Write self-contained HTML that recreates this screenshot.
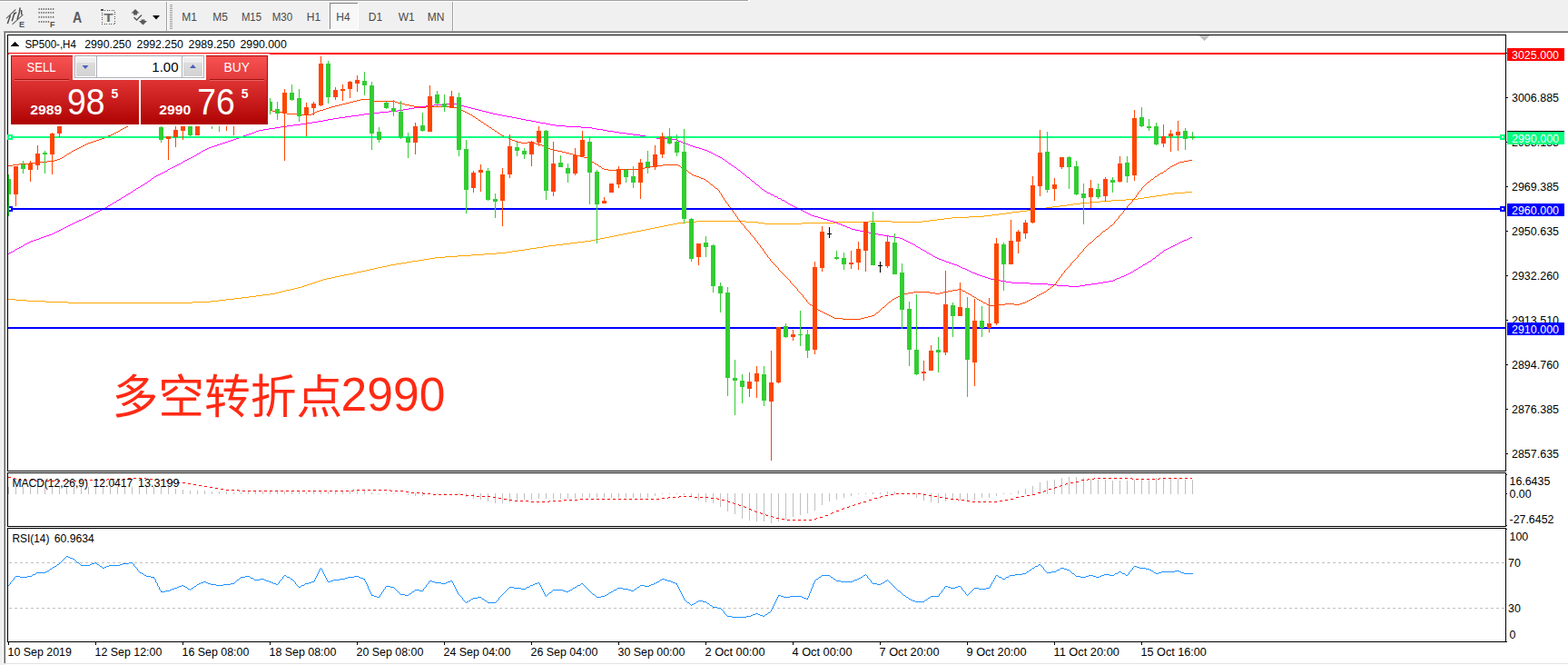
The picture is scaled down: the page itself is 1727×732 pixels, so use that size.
<!DOCTYPE html>
<html><head><meta charset="utf-8"><title>SP500 H4</title>
<style>
html,body{margin:0;padding:0;background:#f0f0f0;overflow:hidden}
svg{display:block;font-family:"Liberation Sans",sans-serif}
</style></head><body>
<svg width="1727" height="732" viewBox="0 0 1727 732" shape-rendering="crispEdges">
<rect x="0" y="0" width="1727" height="732" fill="#f0f0f0"/>
<rect x="6" y="36" width="1721" height="694" fill="#ffffff"/>
<rect x="3" y="36" width="1" height="694" fill="#ffffff"/>
<rect x="0" y="0" width="824" height="1" fill="#a0a0a0"/>
<rect x="0" y="1" width="826" height="1" fill="#ffffff"/>
<rect x="824" y="0" width="2" height="1" fill="#ffffff"/>
<rect x="4" y="34" width="1723" height="1" fill="#a0a0a0"/>
<rect x="5" y="35" width="1722" height="1" fill="#696969"/>
<rect x="4" y="35" width="1" height="695" fill="#a0a0a0"/>
<rect x="5" y="36" width="1" height="694" fill="#696969"/>
<rect x="4" y="730" width="1723" height="1" fill="#e3e3e3"/>
<rect x="0" y="731" width="6" height="1" fill="#f0f0f0"/>
<rect x="6" y="731" width="1721" height="1" fill="#fff"/>
<rect x="0" y="33" width="1727" height="1" fill="#f6f6f6"/>
<rect x="8" y="38" width="1651" height="1" fill="#000"/>
<rect x="8" y="38" width="1" height="669" fill="#000"/>
<rect x="1658" y="38" width="1" height="669" fill="#000"/>
<rect x="8" y="518" width="1651" height="1" fill="#000"/>
<rect x="8" y="519" width="1651" height="1" fill="#fff"/>
<rect x="8" y="520" width="1651" height="1" fill="#000"/>
<rect x="8" y="579" width="1651" height="1" fill="#000"/>
<rect x="8" y="580" width="1651" height="1" fill="#fff"/>
<rect x="8" y="581" width="1651" height="1" fill="#000"/>
<rect x="8" y="706" width="1651" height="1" fill="#000"/>
<rect x="8" y="148" width="6" height="6" fill="#00ff7f"/>
<rect x="10" y="150" width="2" height="2" fill="#fff"/>
<rect x="1652" y="148" width="6" height="6" fill="#00ff7f"/>
<rect x="1654" y="150" width="2" height="2" fill="#fff"/>
<rect x="8" y="227" width="6" height="6" fill="#0000ff"/>
<rect x="10" y="229" width="2" height="2" fill="#fff"/>
<rect x="1652" y="227" width="6" height="6" fill="#0000ff"/>
<rect x="1654" y="229" width="2" height="2" fill="#fff"/>
<g clip-path="url(#cm)">
<path d="M651 264h5v1h-5zM75 333h137v1h-137zM17 330h13v1h-13zM241 330h8v1h-8zM571 275h7v1h-7zM755 244h12v1h-12zM821 244h14v1h-14zM920 244h37v1h-37zM982 244h34v1h-34zM1084 237h8v1h-8zM636 266h8v1h-8zM1159 227h8v1h-8zM1273 215h7v1h-7zM379 302h5v1h-5zM1067 238h17v1h-17zM767 243h54v1h-54zM957 243h25v1h-25zM1016 243h8v1h-8zM666 261h5v1h-5zM591 272h7v1h-7zM701 254h5v1h-5zM365 305h4v1h-4zM1212 221h12v1h-12zM584 273h7v1h-7zM1260 217h6v1h-6zM746 245h9v1h-9zM835 245h7v1h-7zM883 245h37v1h-37zM1100 235h8v1h-8zM393 299h5v1h-5zM1167 226h8v1h-8zM726 249h5v1h-5zM9 329h8v1h-8zM249 329h9v1h-9zM353 308h3v1h-3zM50 332h25v1h-25zM212 332h20v1h-20zM426 292h4v1h-4zM533 279h14v1h-14zM490 282h14v1h-14zM716 251h5v1h-5zM681 258h5v1h-5zM454 287h7v1h-7zM442 289h6v1h-6zM407 296h5v1h-5zM1224 220h16v1h-16zM266 327h8v1h-8zM344 311h3v1h-3zM741 246h5v1h-5zM842 246h41v1h-41zM731 248h5v1h-5zM1200 222h12v1h-12zM1040 240h8v1h-8zM479 283h11v1h-11zM1190 223h10v1h-10zM1032 241h8v1h-8zM307 321h4v1h-4zM547 278h11v1h-11zM504 281h15v1h-15zM1293 212h12v1h-12zM335 314h3v1h-3zM1146 229h6v1h-6zM328 316h4v1h-4zM1131 231h8v1h-8zM315 319h5v1h-5zM519 280h14v1h-14zM311 320h4v1h-4zM30 331h20v1h-20zM232 331h9v1h-9zM297 323h6v1h-6zM578 274h6v1h-6zM686 257h5v1h-5zM1048 239h19v1h-19zM412 295h4v1h-4zM1266 216h7v1h-7zM736 247h5v1h-5zM661 262h5v1h-5zM691 256h5v1h-5zM656 263h5v1h-5zM1175 225h7v1h-7zM389 300h4v1h-4zM356 307h4v1h-4zM612 269h8v1h-8zM416 294h5v1h-5zM350 309h3v1h-3zM374 303h5v1h-5zM598 271h6v1h-6zM1115 233h8v1h-8zM620 268h8v1h-8zM1024 242h8v1h-8zM430 291h6v1h-6zM1286 213h7v1h-7zM282 325h7v1h-7zM1240 219h13v1h-13zM303 322h4v1h-4zM1139 230h7v1h-7zM467 285h6v1h-6zM289 324h8v1h-8zM1092 236h8v1h-8zM564 276h7v1h-7zM676 259h5v1h-5zM711 252h5v1h-5zM403 297h4v1h-4zM1253 218h7v1h-7zM1182 224h8v1h-8zM604 270h8v1h-8zM706 253h5v1h-5zM341 312h3v1h-3zM436 290h6v1h-6zM1123 232h8v1h-8zM628 267h8v1h-8zM332 315h3v1h-3zM320 318h4v1h-4zM696 255h5v1h-5zM671 260h5v1h-5zM1280 214h6v1h-6zM274 326h8v1h-8zM398 298h5v1h-5zM324 317h4v1h-4zM338 313h3v1h-3zM1305 211h8v1h-8zM461 286h6v1h-6zM1152 228h7v1h-7zM644 265h7v1h-7zM258 328h8v1h-8zM1108 234h7v1h-7zM721 250h5v1h-5zM384 301h5v1h-5zM448 288h6v1h-6zM360 306h5v1h-5zM558 277h6v1h-6zM421 293h5v1h-5zM473 284h6v1h-6zM369 304h5v1h-5zM347 310h3v1h-3z" fill="#ffa500"/>
<path d="M285 143h5v1h-5zM664 143h5v1h-5zM257 153h3v1h-3zM735 153h10v1h-10zM73 249h2v1h-2zM931 249h2v1h-2zM199 179h2v1h-2zM802 179h1v1h-1zM1177 315h12v1h-12zM63 254h2v1h-2zM947 254h5v1h-5zM48 260h3v1h-3zM979 260h6v1h-6zM462 117h7v1h-7zM511 117h4v1h-4zM309 139h7v1h-7zM623 139h17v1h-17zM195 181h2v1h-2zM805 181h1v1h-1zM119 226h2v1h-2zM872 226h2v1h-2zM1069 299h2v1h-2zM1246 299h2v1h-2zM1114 311h20v1h-20zM1209 311h6v1h-6zM263 151h3v1h-3zM717 151h6v1h-6zM1063 296h2v1h-2zM1251 296h2v1h-2zM136 216h2v1h-2zM853 216h3v1h-3zM51 259h3v1h-3zM973 259h6v1h-6zM1076 302h3v1h-3zM1240 302h2v1h-2zM380 128h7v1h-7zM558 128h6v1h-6zM1134 312h20v1h-20zM1202 312h7v1h-7zM277 146h3v1h-3zM682 146h8v1h-8zM94 239h2v1h-2zM901 239h3v1h-3zM214 171h2v1h-2zM789 171h2v1h-2zM488 114h15v1h-15zM236 160h3v1h-3zM760 160h3v1h-3zM303 140h6v1h-6zM640 140h12v1h-12zM233 161h3v1h-3zM763 161h3v1h-3zM450 119h6v1h-6zM519 119h4v1h-4zM409 124h9v1h-9zM539 124h4v1h-4zM59 256h2v1h-2zM957 256h5v1h-5zM26 269h2v1h-2zM1006 269h2v1h-2zM1294 269h2v1h-2zM444 120h6v1h-6zM523 120h4v1h-4zM1164 314h13v1h-13zM1189 314h6v1h-6zM274 147h3v1h-3zM690 147h7v1h-7zM323 137h8v1h-8zM606 137h6v1h-6zM1065 297h2v1h-2zM1249 297h2v1h-2zM1071 300h3v1h-3zM1244 300h2v1h-2zM395 126h6v1h-6zM548 126h5v1h-5zM316 138h7v1h-7zM612 138h11v1h-11zM456 118h6v1h-6zM515 118h4v1h-4zM23 271h2v1h-2zM1009 271h2v1h-2zM1290 271h2v1h-2zM266 150h2v1h-2zM711 150h6v1h-6zM187 185h2v1h-2zM811 185h1v1h-1zM1088 306h3v1h-3zM1230 306h3v1h-3zM129 220h2v1h-2zM861 220h3v1h-3zM268 149h3v1h-3zM705 149h6v1h-6zM401 125h8v1h-8zM543 125h5v1h-5zM338 135h6v1h-6zM595 135h6v1h-6zM1028 282h2v1h-2zM1273 282h1v1h-1zM206 175h2v1h-2zM796 175h2v1h-2zM40 263h3v1h-3zM994 263h2v1h-2zM1307 263h2v1h-2zM224 165h2v1h-2zM776 165h3v1h-3zM170 194h2v1h-2zM822 194h1v1h-1zM438 121h6v1h-6zM527 121h4v1h-4zM1102 309h6v1h-6zM1221 309h5v1h-5zM184 187h1v1h-1zM813 187h2v1h-2zM83 244h2v1h-2zM918 244h3v1h-3zM25 270h1v1h-1zM1008 270h1v1h-1zM1292 270h2v1h-2zM90 241h2v1h-2zM907 241h4v1h-4zM189 184h2v1h-2zM809 184h2v1h-2zM108 232h2v1h-2zM884 232h2v1h-2zM1037 286h3v1h-3zM1268 286h1v1h-1zM98 237h2v1h-2zM894 237h3v1h-3zM1154 313h10v1h-10zM1195 313h7v1h-7zM344 134h6v1h-6zM590 134h5v1h-5zM1030 283h2v1h-2zM1272 283h1v1h-1zM9 279h1v1h-1zM1023 279h2v1h-2zM1277 279h1v1h-1zM104 234h2v1h-2zM888 234h2v1h-2zM61 255h2v1h-2zM952 255h5v1h-5zM16 275h1v1h-1zM1016 275h2v1h-2zM1282 275h2v1h-2zM12 277h2v1h-2zM1020 277h1v1h-1zM1280 277h1v1h-1zM75 248h2v1h-2zM928 248h3v1h-3zM81 245h2v1h-2zM921 245h2v1h-2zM96 238h2v1h-2zM897 238h4v1h-4zM242 158h3v1h-3zM755 158h3v1h-3zM17 274h2v1h-2zM1014 274h2v1h-2zM1284 274h2v1h-2zM14 276h2v1h-2zM1018 276h2v1h-2zM1281 276h1v1h-1zM21 272h2v1h-2zM1011 272h2v1h-2zM1288 272h2v1h-2zM1054 292h2v1h-2zM1258 292h1v1h-1zM418 123h10v1h-10zM535 123h4v1h-4zM367 130h6v1h-6zM569 130h5v1h-5zM178 190h2v1h-2zM817 190h1v1h-1zM10 278h2v1h-2zM1021 278h2v1h-2zM1278 278h2v1h-2zM28 268h2v1h-2zM1004 268h2v1h-2zM1296 268h2v1h-2zM139 214h2v1h-2zM849 214h3v1h-3zM32 266h2v1h-2zM1000 266h2v1h-2zM1300 266h2v1h-2zM361 131h6v1h-6zM574 131h5v1h-5zM197 180h2v1h-2zM803 180h2v1h-2zM116 228h2v1h-2zM876 228h2v1h-2zM228 163h2v1h-2zM770 163h3v1h-3zM162 200h1v1h-1zM830 200h1v1h-1zM290 142h6v1h-6zM657 142h7v1h-7zM79 246h2v1h-2zM923 246h3v1h-3zM260 152h3v1h-3zM723 152h12v1h-12zM118 227h1v1h-1zM874 227h2v1h-2zM373 129h7v1h-7zM564 129h5v1h-5zM210 173h2v1h-2zM793 173h2v1h-2zM85 243h2v1h-2zM914 243h4v1h-4zM1042 288h3v1h-3zM1264 288h2v1h-2zM160 201h2v1h-2zM831 201h1v1h-1zM45 261h3v1h-3zM985 261h6v1h-6zM1311 261h2v1h-2zM1091 307h5v1h-5zM1228 307h2v1h-2zM106 233h2v1h-2zM886 233h2v1h-2zM114 229h2v1h-2zM878 229h2v1h-2zM1096 308h6v1h-6zM1226 308h2v1h-2zM478 115h10v1h-10zM503 115h3v1h-3zM71 250h2v1h-2zM933 250h3v1h-3zM1067 298h2v1h-2zM1248 298h1v1h-1zM77 247h2v1h-2zM926 247h2v1h-2zM1108 310h6v1h-6zM1215 310h6v1h-6zM144 211h2v1h-2zM844 211h1v1h-1zM67 252h2v1h-2zM938 252h4v1h-4zM193 182h2v1h-2zM806 182h2v1h-2zM222 166h2v1h-2zM779 166h2v1h-2zM469 116h9v1h-9zM506 116h5v1h-5zM1058 294h2v1h-2zM1254 294h2v1h-2zM110 231h2v1h-2zM882 231h2v1h-2zM112 230h2v1h-2zM880 230h2v1h-2zM43 262h2v1h-2zM991 262h3v1h-3zM1309 262h2v1h-2zM239 159h3v1h-3zM758 159h2v1h-2zM350 133h6v1h-6zM585 133h5v1h-5zM126 222h2v1h-2zM865 222h2v1h-2zM254 154h3v1h-3zM745 154h2v1h-2zM87 242h3v1h-3zM911 242h3v1h-3zM1060 295h3v1h-3zM1253 295h1v1h-1zM1051 291h3v1h-3zM1259 291h2v1h-2zM282 144h3v1h-3zM669 144h7v1h-7zM65 253h2v1h-2zM942 253h5v1h-5zM37 264h3v1h-3zM996 264h2v1h-2zM1304 264h3v1h-3zM150 207h2v1h-2zM838 207h1v1h-1zM204 176h2v1h-2zM798 176h1v1h-1zM387 127h8v1h-8zM553 127h5v1h-5zM1074 301h2v1h-2zM1242 301h2v1h-2zM216 170h1v1h-1zM787 170h2v1h-2zM219 168h2v1h-2zM783 168h2v1h-2zM1079 303h3v1h-3zM1238 303h2v1h-2zM134 217h2v1h-2zM856 217h1v1h-1zM159 202h1v1h-1zM832 202h1v1h-1zM296 141h7v1h-7zM652 141h5v1h-5zM180 189h2v1h-2zM816 189h1v1h-1zM176 191h2v1h-2zM818 191h2v1h-2zM356 132h5v1h-5zM579 132h6v1h-6zM251 155h3v1h-3zM747 155h3v1h-3zM121 225h2v1h-2zM870 225h2v1h-2zM169 195h1v1h-1zM823 195h2v1h-2zM230 162h3v1h-3zM766 162h4v1h-4zM124 223h2v1h-2zM867 223h1v1h-1zM30 267h2v1h-2zM1002 267h2v1h-2zM1298 267h2v1h-2zM133 218h1v1h-1zM857 218h3v1h-3zM1027 281h1v1h-1zM1274 281h2v1h-2zM208 174h2v1h-2zM795 174h1v1h-1zM245 157h3v1h-3zM752 157h3v1h-3zM428 122h10v1h-10zM531 122h4v1h-4zM212 172h2v1h-2zM791 172h2v1h-2zM1045 289h3v1h-3zM1263 289h1v1h-1zM102 235h2v1h-2zM890 235h2v1h-2zM131 219h2v1h-2zM860 219h1v1h-1zM1056 293h2v1h-2zM1256 293h2v1h-2zM1040 287h2v1h-2zM1266 287h2v1h-2zM157 203h2v1h-2zM833 203h2v1h-2zM19 273h2v1h-2zM1013 273h1v1h-1zM1286 273h2v1h-2zM128 221h1v1h-1zM864 221h1v1h-1zM34 265h3v1h-3zM998 265h2v1h-2zM1302 265h2v1h-2zM69 251h2v1h-2zM936 251h2v1h-2zM201 178h1v1h-1zM801 178h1v1h-1zM202 177h2v1h-2zM799 177h2v1h-2zM141 213h2v1h-2zM848 213h1v1h-1zM166 197h1v1h-1zM826 197h1v1h-1zM167 196h2v1h-2zM825 196h1v1h-1zM221 167h1v1h-1zM781 167h2v1h-2zM54 258h3v1h-3zM967 258h6v1h-6zM57 257h2v1h-2zM962 257h5v1h-5zM248 156h3v1h-3zM750 156h2v1h-2zM152 206h2v1h-2zM837 206h1v1h-1zM172 193h2v1h-2zM821 193h1v1h-1zM191 183h2v1h-2zM808 183h1v1h-1zM123 224h1v1h-1zM868 224h2v1h-2zM163 199h2v1h-2zM828 199h2v1h-2zM331 136h7v1h-7zM601 136h5v1h-5zM1085 305h3v1h-3zM1233 305h2v1h-2zM185 186h2v1h-2zM812 186h1v1h-1zM143 212h1v1h-1zM845 212h3v1h-3zM217 169h2v1h-2zM785 169h2v1h-2zM271 148h3v1h-3zM697 148h8v1h-8zM1034 285h3v1h-3zM1269 285h1v1h-1zM165 198h1v1h-1zM827 198h1v1h-1zM149 208h1v1h-1zM839 208h2v1h-2zM1032 284h2v1h-2zM1270 284h2v1h-2zM1082 304h3v1h-3zM1235 304h3v1h-3zM174 192h2v1h-2zM820 192h1v1h-1zM155 204h2v1h-2zM835 204h1v1h-1zM1048 290h3v1h-3zM1261 290h2v1h-2zM182 188h2v1h-2zM815 188h1v1h-1zM138 215h1v1h-1zM852 215h1v1h-1zM146 210h1v1h-1zM842 210h2v1h-2zM280 145h2v1h-2zM676 145h6v1h-6zM226 164h2v1h-2zM773 164h3v1h-3zM1025 280h2v1h-2zM1276 280h1v1h-1zM147 209h2v1h-2zM841 209h1v1h-1zM92 240h2v1h-2zM904 240h3v1h-3zM100 236h2v1h-2zM892 236h2v1h-2zM154 205h1v1h-1zM836 205h1v1h-1z" fill="#ff00ff"/>
<path d="M891 334h1v1h-1zM977 334h1v1h-1zM1086 334h1v1h-1zM1107 334h10v1h-10zM1123 334h3v1h-3zM843 279h1v1h-1zM1189 279h1v1h-1zM880 321h1v1h-1zM1006 321h18v1h-18zM1039 321h5v1h-5zM1063 321h1v1h-1zM1150 321h2v1h-2zM183 125h5v1h-5zM316 125h11v1h-11zM343 125h2v1h-2zM516 125h2v1h-2zM865 304h1v1h-1zM1168 304h1v1h-1zM777 198h1v1h-1zM1267 198h1v1h-1zM665 186h5v1h-5zM680 186h25v1h-25zM754 186h1v1h-1zM1285 186h1v1h-1zM238 120h53v1h-53zM356 120h3v1h-3zM506 120h2v1h-2zM878 319h1v1h-1zM1049 319h6v1h-6zM1059 319h1v1h-1zM1153 319h1v1h-1zM890 333h1v1h-1zM978 333h1v1h-1zM1083 333h3v1h-3zM1126 333h3v1h-3zM848 285h1v1h-1zM1184 285h1v1h-1zM188 124h5v1h-5zM313 124h3v1h-3zM345 124h2v1h-2zM514 124h2v1h-2zM869 308h1v1h-1zM1165 308h1v1h-1zM168 128h5v1h-5zM521 128h2v1h-2zM792 211h1v1h-1zM1254 211h1v1h-1zM60 176h3v1h-3zM650 176h1v1h-1zM1309 176h4v1h-4zM795 216h1v1h-1zM1251 216h1v1h-1zM198 122h15v1h-15zM300 122h7v1h-7zM349 122h3v1h-3zM510 122h2v1h-2zM89 161h2v1h-2zM599 161h3v1h-3zM393 110h4v1h-4zM408 110h4v1h-4zM764 193h3v1h-3zM1274 193h1v1h-1zM806 231h1v1h-1zM1238 231h1v1h-1zM874 314h1v1h-1zM1160 314h1v1h-1zM95 158h2v1h-2zM590 158h4v1h-4zM43 178h9v1h-9zM652 178h2v1h-2zM1299 178h5v1h-5zM928 351h20v1h-20zM365 117h4v1h-4zM456 117h6v1h-6zM469 117h30v1h-30zM810 237h1v1h-1zM1233 237h1v1h-1zM820 250h1v1h-1zM1221 250h1v1h-1zM66 174h2v1h-2zM647 174h2v1h-2zM762 192h2v1h-2zM1275 192h2v1h-2zM894 336h1v1h-1zM975 336h1v1h-1zM1090 336h6v1h-6zM128 145h2v1h-2zM547 145h1v1h-1zM97 157h3v1h-3zM574 157h7v1h-7zM587 157h3v1h-3zM76 168h2v1h-2zM623 168h4v1h-4zM881 322h1v1h-1zM1000 322h6v1h-6zM1024 322h6v1h-6zM1035 322h4v1h-4zM1064 322h2v1h-2zM1148 322h2v1h-2zM913 347h2v1h-2zM960 347h3v1h-3zM919 350h9v1h-9zM948 350h4v1h-4zM911 346h2v1h-2zM963 346h1v1h-1zM903 342h2v1h-2zM968 342h1v1h-1zM193 123h5v1h-5zM307 123h6v1h-6zM347 123h2v1h-2zM512 123h2v1h-2zM861 300h1v1h-1zM1171 300h1v1h-1zM905 343h2v1h-2zM967 343h1v1h-1zM148 135h2v1h-2zM532 135h1v1h-1zM883 324h1v1h-1zM994 324h2v1h-2zM1068 324h2v1h-2zM1144 324h2v1h-2zM87 162h2v1h-2zM602 162h2v1h-2zM14 181h7v1h-7zM657 181h2v1h-2zM730 181h17v1h-17zM1293 181h2v1h-2zM767 194h3v1h-3zM1272 194h2v1h-2zM373 115h4v1h-4zM446 115h5v1h-5zM660 183h2v1h-2zM716 183h6v1h-6zM749 183h1v1h-1zM1289 183h2v1h-2zM213 121h25v1h-25zM291 121h9v1h-9zM352 121h4v1h-4zM508 121h2v1h-2zM884 326h1v1h-1zM989 326h3v1h-3zM1071 326h2v1h-2zM1141 326h1v1h-1zM901 341h2v1h-2zM969 341h1v1h-1zM130 144h2v1h-2zM545 144h2v1h-2zM884 325h1v1h-1zM992 325h2v1h-2zM1070 325h1v1h-1zM1142 325h2v1h-2zM831 263h1v1h-1zM1205 263h1v1h-1zM841 276h1v1h-1zM1192 276h1v1h-1zM828 259h1v1h-1zM1210 259h1v1h-1zM389 111h4v1h-4zM412 111h23v1h-23zM126 146h2v1h-2zM548 146h2v1h-2zM842 277h1v1h-1zM1191 277h1v1h-1zM845 282h1v1h-1zM1187 282h1v1h-1zM32 179h11v1h-11zM654 179h1v1h-1zM1297 179h2v1h-2zM867 306h1v1h-1zM1166 306h1v1h-1zM135 141h2v1h-2zM541 141h1v1h-1zM868 307h1v1h-1zM1166 307h1v1h-1zM377 114h4v1h-4zM443 114h3v1h-3zM892 335h2v1h-2zM976 335h1v1h-1zM1087 335h3v1h-3zM1096 335h11v1h-11zM1117 335h6v1h-6zM794 214h1v1h-1zM1252 214h1v1h-1zM670 187h10v1h-10zM755 187h2v1h-2zM1284 187h1v1h-1zM397 109h11v1h-11zM362 118h3v1h-3zM462 118h7v1h-7zM499 118h5v1h-5zM812 239h1v1h-1zM1232 239h1v1h-1zM825 255h1v1h-1zM1214 255h1v1h-1zM173 127h5v1h-5zM329 127h3v1h-3zM520 127h1v1h-1zM797 218h1v1h-1zM1249 218h1v1h-1zM9 182h5v1h-5zM659 182h1v1h-1zM722 182h8v1h-8zM747 182h2v1h-2zM1291 182h2v1h-2zM21 180h11v1h-11zM655 180h2v1h-2zM1295 180h2v1h-2zM78 167h1v1h-1zM619 167h4v1h-4zM785 204h1v1h-1zM1260 204h1v1h-1zM137 140h2v1h-2zM539 140h2v1h-2zM854 292h1v1h-1zM1178 292h1v1h-1zM788 207h2v1h-2zM1257 207h1v1h-1zM807 233h1v1h-1zM1237 233h1v1h-1zM889 332h1v1h-1zM979 332h2v1h-2zM1082 332h1v1h-1zM1129 332h2v1h-2zM833 265h1v1h-1zM1203 265h1v1h-1zM157 131h2v1h-2zM526 131h1v1h-1zM844 280h1v1h-1zM1188 280h1v1h-1zM888 330h1v1h-1zM982 330h1v1h-1zM1078 330h2v1h-2zM1133 330h2v1h-2zM100 156h3v1h-3zM570 156h4v1h-4zM581 156h6v1h-6zM848 286h1v1h-1zM1183 286h1v1h-1zM780 200h1v1h-1zM1264 200h2v1h-2zM792 210h1v1h-1zM1255 210h1v1h-1zM870 309h1v1h-1zM1164 309h1v1h-1zM795 215h1v1h-1zM1251 215h1v1h-1zM83 164h2v1h-2zM606 164h4v1h-4zM52 177h8v1h-8zM651 177h1v1h-1zM1304 177h5v1h-5zM758 189h1v1h-1zM1281 189h1v1h-1zM810 236h1v1h-1zM1234 236h1v1h-1zM79 166h2v1h-2zM614 166h5v1h-5zM109 153h3v1h-3zM562 153h2v1h-2zM759 190h2v1h-2zM1278 190h3v1h-3zM814 242h1v1h-1zM1229 242h1v1h-1zM840 274h1v1h-1zM1193 274h1v1h-1zM864 303h1v1h-1zM1169 303h1v1h-1zM898 339h1v1h-1zM971 339h1v1h-1zM887 329h1v1h-1zM983 329h2v1h-2zM1076 329h2v1h-2zM1135 329h2v1h-2zM662 184h1v1h-1zM710 184h6v1h-6zM750 184h2v1h-2zM1288 184h1v1h-1zM834 267h1v1h-1zM1200 267h2v1h-2zM831 262h1v1h-1zM1206 262h1v1h-1zM899 340h2v1h-2zM970 340h1v1h-1zM830 261h1v1h-1zM1207 261h1v1h-1zM871 311h1v1h-1zM1163 311h1v1h-1zM872 312h1v1h-1zM1162 312h1v1h-1zM145 136h3v1h-3zM533 136h2v1h-2zM117 150h2v1h-2zM555 150h2v1h-2zM879 320h1v1h-1zM1044 320h5v1h-5zM1060 320h3v1h-3zM1152 320h1v1h-1zM757 188h1v1h-1zM1282 188h2v1h-2zM802 225h1v1h-1zM1243 225h1v1h-1zM93 159h2v1h-2zM594 159h3v1h-3zM369 116h4v1h-4zM451 116h5v1h-5zM882 323h1v1h-1zM996 323h4v1h-4zM1030 323h5v1h-5zM1066 323h2v1h-2zM1146 323h2v1h-2zM119 149h3v1h-3zM553 149h2v1h-2zM907 344h2v1h-2zM965 344h2v1h-2zM115 151h2v1h-2zM557 151h3v1h-3zM91 160h2v1h-2zM597 160h2v1h-2zM802 226h1v1h-1zM1242 226h1v1h-1zM133 142h2v1h-2zM542 142h2v1h-2zM163 129h5v1h-5zM523 129h1v1h-1zM178 126h5v1h-5zM327 126h2v1h-2zM332 126h11v1h-11zM518 126h2v1h-2zM68 173h2v1h-2zM643 173h4v1h-4zM807 232h1v1h-1zM1237 232h1v1h-1zM794 213h1v1h-1zM1253 213h1v1h-1zM103 155h3v1h-3zM567 155h3v1h-3zM842 278h1v1h-1zM1190 278h1v1h-1zM152 133h3v1h-3zM529 133h1v1h-1zM915 348h2v1h-2zM956 348h4v1h-4zM895 337h1v1h-1zM974 337h1v1h-1zM849 287h1v1h-1zM1182 287h1v1h-1zM896 338h2v1h-2zM972 338h2v1h-2zM804 228h1v1h-1zM1241 228h1v1h-1zM106 154h3v1h-3zM564 154h3v1h-3zM875 315h1v1h-1zM1158 315h2v1h-2zM857 296h1v1h-1zM1174 296h1v1h-1zM155 132h2v1h-2zM527 132h2v1h-2zM863 302h1v1h-1zM1169 302h1v1h-1zM385 112h4v1h-4zM435 112h3v1h-3zM70 172h1v1h-1zM639 172h4v1h-4zM770 195h2v1h-2zM1271 195h1v1h-1zM829 260h1v1h-1zM1208 260h2v1h-2zM761 191h1v1h-1zM1277 191h1v1h-1zM824 254h1v1h-1zM1215 254h2v1h-2zM381 113h4v1h-4zM438 113h5v1h-5zM885 327h1v1h-1zM987 327h2v1h-2zM1073 327h2v1h-2zM1139 327h2v1h-2zM775 197h2v1h-2zM1268 197h2v1h-2zM85 163h2v1h-2zM604 163h2v1h-2zM819 248h1v1h-1zM1223 248h2v1h-2zM888 331h1v1h-1zM981 331h1v1h-1zM1080 331h2v1h-2zM1131 331h2v1h-2zM812 240h1v1h-1zM1231 240h1v1h-1zM813 241h1v1h-1zM1230 241h1v1h-1zM809 235h1v1h-1zM1235 235h1v1h-1zM852 290h1v1h-1zM1179 290h1v1h-1zM778 199h2v1h-2zM1266 199h1v1h-1zM81 165h2v1h-2zM610 165h4v1h-4zM803 227h1v1h-1zM1241 227h1v1h-1zM790 208h1v1h-1zM1257 208h1v1h-1zM839 273h1v1h-1zM1194 273h1v1h-1zM857 295h1v1h-1zM1175 295h1v1h-1zM862 301h1v1h-1zM1170 301h1v1h-1zM870 310h1v1h-1zM1163 310h1v1h-1zM850 288h1v1h-1zM1181 288h1v1h-1zM796 217h1v1h-1zM1250 217h1v1h-1zM141 138h2v1h-2zM536 138h2v1h-2zM800 223h1v1h-1zM1245 223h1v1h-1zM836 269h1v1h-1zM1198 269h1v1h-1zM74 169h2v1h-2zM627 169h4v1h-4zM63 175h3v1h-3zM649 175h1v1h-1zM840 275h1v1h-1zM1193 275h1v1h-1zM124 147h2v1h-2zM550 147h1v1h-1zM876 316h1v1h-1zM1157 316h1v1h-1zM855 293h1v1h-1zM1177 293h1v1h-1zM877 317h1v1h-1zM1156 317h1v1h-1zM143 137h2v1h-2zM535 137h1v1h-1zM159 130h4v1h-4zM524 130h2v1h-2zM663 185h2v1h-2zM705 185h5v1h-5zM752 185h2v1h-2zM1286 185h2v1h-2zM846 283h1v1h-1zM1186 283h1v1h-1zM878 318h1v1h-1zM1055 318h4v1h-4zM1154 318h2v1h-2zM798 220h1v1h-1zM1247 220h1v1h-1zM817 246h1v1h-1zM1226 246h1v1h-1zM132 143h1v1h-1zM544 143h1v1h-1zM799 221h1v1h-1zM1247 221h1v1h-1zM917 349h2v1h-2zM952 349h4v1h-4zM820 249h1v1h-1zM1222 249h1v1h-1zM838 272h1v1h-1zM1195 272h1v1h-1zM834 266h1v1h-1zM1202 266h1v1h-1zM886 328h1v1h-1zM985 328h2v1h-2zM1075 328h1v1h-1zM1137 328h2v1h-2zM845 281h1v1h-1zM1187 281h1v1h-1zM859 298h1v1h-1zM1172 298h1v1h-1zM73 170h1v1h-1zM631 170h4v1h-4zM851 289h1v1h-1zM1180 289h1v1h-1zM112 152h3v1h-3zM560 152h2v1h-2zM821 251h1v1h-1zM1220 251h1v1h-1zM826 257h1v1h-1zM1212 257h1v1h-1zM815 243h1v1h-1zM1228 243h1v1h-1zM787 206h1v1h-1zM1258 206h1v1h-1zM799 222h1v1h-1zM1246 222h1v1h-1zM856 294h1v1h-1zM1176 294h1v1h-1zM853 291h1v1h-1zM1179 291h1v1h-1zM816 245h1v1h-1zM1227 245h1v1h-1zM782 202h1v1h-1zM1262 202h1v1h-1zM835 268h1v1h-1zM1199 268h1v1h-1zM359 119h3v1h-3zM504 119h2v1h-2zM122 148h2v1h-2zM551 148h2v1h-2zM866 305h1v1h-1zM1167 305h1v1h-1zM797 219h1v1h-1zM1248 219h1v1h-1zM811 238h1v1h-1zM1232 238h1v1h-1zM815 244h1v1h-1zM1227 244h1v1h-1zM909 345h2v1h-2zM964 345h1v1h-1zM781 201h1v1h-1zM1263 201h1v1h-1zM832 264h1v1h-1zM1204 264h1v1h-1zM805 229h1v1h-1zM1240 229h1v1h-1zM791 209h1v1h-1zM1256 209h1v1h-1zM150 134h2v1h-2zM530 134h2v1h-2zM783 203h2v1h-2zM1261 203h1v1h-1zM772 196h3v1h-3zM1270 196h1v1h-1zM801 224h1v1h-1zM1244 224h1v1h-1zM805 230h1v1h-1zM1239 230h1v1h-1zM826 256h1v1h-1zM1213 256h1v1h-1zM837 270h1v1h-1zM1197 270h1v1h-1zM818 247h1v1h-1zM1225 247h1v1h-1zM71 171h2v1h-2zM635 171h4v1h-4zM822 252h1v1h-1zM1218 252h2v1h-2zM139 139h2v1h-2zM538 139h1v1h-1zM837 271h1v1h-1zM1196 271h1v1h-1zM860 299h1v1h-1zM1172 299h1v1h-1zM786 205h1v1h-1zM1259 205h1v1h-1zM793 212h1v1h-1zM1253 212h1v1h-1zM823 253h1v1h-1zM1217 253h1v1h-1zM858 297h1v1h-1zM1173 297h1v1h-1zM847 284h1v1h-1zM1185 284h1v1h-1zM873 313h1v1h-1zM1161 313h1v1h-1zM827 258h1v1h-1zM1211 258h1v1h-1zM808 234h1v1h-1zM1236 234h1v1h-1z" fill="#ff4500"/>
<rect x="9" y="58" width="1649" height="2" fill="#ff0000"/>
<rect x="14" y="150" width="1638" height="2" fill="#00ff7f"/>
<rect x="14" y="229" width="1638" height="2" fill="#0000ff"/>
<rect x="9" y="360" width="1649" height="2" fill="#0000ff"/>
<rect x="9" y="192" width="1" height="46" fill="#32cd32"/>
<rect x="7" y="197" width="5" height="17" fill="#32cd32"/>
<rect x="17" y="183" width="1" height="44" fill="#ff4500"/>
<rect x="15" y="183" width="5" height="31" fill="#ff4500"/>
<rect x="25" y="177" width="1" height="14" fill="#32cd32"/>
<rect x="23" y="181" width="5" height="5" fill="#32cd32"/>
<rect x="33" y="177" width="1" height="23" fill="#ff4500"/>
<rect x="31" y="180" width="5" height="7" fill="#ff4500"/>
<rect x="41" y="160" width="1" height="27" fill="#ff4500"/>
<rect x="39" y="169" width="5" height="13" fill="#ff4500"/>
<rect x="49" y="166" width="1" height="25" fill="#32cd32"/>
<rect x="47" y="168" width="5" height="2" fill="#32cd32"/>
<rect x="57" y="146" width="1" height="46" fill="#ff4500"/>
<rect x="55" y="147" width="5" height="23" fill="#ff4500"/>
<rect x="65" y="124" width="1" height="27" fill="#ff4500"/>
<rect x="63" y="128" width="5" height="19" fill="#ff4500"/>
<rect x="177" y="139" width="1" height="18" fill="#32cd32"/>
<rect x="175" y="140" width="5" height="14" fill="#32cd32"/>
<rect x="185" y="150" width="1" height="26" fill="#ff4500"/>
<rect x="183" y="150" width="5" height="3" fill="#ff4500"/>
<rect x="193" y="139" width="1" height="23" fill="#ff4500"/>
<rect x="191" y="143" width="5" height="8" fill="#ff4500"/>
<rect x="201" y="126" width="1" height="28" fill="#ff4500"/>
<rect x="199" y="128" width="5" height="16" fill="#ff4500"/>
<rect x="209" y="126" width="1" height="24" fill="#32cd32"/>
<rect x="207" y="128" width="5" height="21" fill="#32cd32"/>
<rect x="217" y="126" width="1" height="23" fill="#ff4500"/>
<rect x="215" y="128" width="5" height="21" fill="#ff4500"/>
<rect x="233" y="128" width="1" height="14" fill="#32cd32"/>
<rect x="231" y="130" width="5" height="4" fill="#32cd32"/>
<rect x="241" y="128" width="1" height="17" fill="#32cd32"/>
<rect x="239" y="130" width="5" height="6" fill="#32cd32"/>
<rect x="249" y="128" width="1" height="16" fill="#ff4500"/>
<rect x="247" y="130" width="5" height="6" fill="#ff4500"/>
<rect x="257" y="126" width="1" height="23" fill="#ff4500"/>
<rect x="255" y="128" width="5" height="8" fill="#ff4500"/>
<rect x="297" y="108" width="1" height="18" fill="#32cd32"/>
<rect x="295" y="112" width="5" height="9" fill="#32cd32"/>
<rect x="305" y="112" width="1" height="20" fill="#32cd32"/>
<rect x="303" y="120" width="5" height="5" fill="#32cd32"/>
<rect x="313" y="98" width="1" height="79" fill="#ff4500"/>
<rect x="311" y="102" width="5" height="23" fill="#ff4500"/>
<rect x="321" y="93" width="1" height="18" fill="#32cd32"/>
<rect x="319" y="102" width="5" height="8" fill="#32cd32"/>
<rect x="329" y="98" width="1" height="36" fill="#32cd32"/>
<rect x="327" y="108" width="5" height="20" fill="#32cd32"/>
<rect x="337" y="113" width="1" height="37" fill="#ff4500"/>
<rect x="335" y="118" width="5" height="9" fill="#ff4500"/>
<rect x="345" y="112" width="1" height="15" fill="#ff4500"/>
<rect x="343" y="114" width="5" height="5" fill="#ff4500"/>
<rect x="353" y="62" width="1" height="55" fill="#ff4500"/>
<rect x="351" y="70" width="5" height="46" fill="#ff4500"/>
<rect x="361" y="67" width="1" height="47" fill="#32cd32"/>
<rect x="359" y="70" width="5" height="37" fill="#32cd32"/>
<rect x="369" y="96" width="1" height="14" fill="#ff4500"/>
<rect x="367" y="99" width="5" height="8" fill="#ff4500"/>
<rect x="377" y="93" width="1" height="18" fill="#ff4500"/>
<rect x="375" y="98" width="5" height="2" fill="#ff4500"/>
<rect x="385" y="89" width="1" height="19" fill="#ff4500"/>
<rect x="383" y="90" width="5" height="8" fill="#ff4500"/>
<rect x="393" y="83" width="1" height="18" fill="#ff4500"/>
<rect x="391" y="88" width="5" height="4" fill="#ff4500"/>
<rect x="401" y="79" width="1" height="26" fill="#32cd32"/>
<rect x="399" y="89" width="5" height="5" fill="#32cd32"/>
<rect x="409" y="90" width="1" height="75" fill="#32cd32"/>
<rect x="407" y="94" width="5" height="53" fill="#32cd32"/>
<rect x="417" y="140" width="1" height="17" fill="#32cd32"/>
<rect x="415" y="145" width="5" height="9" fill="#32cd32"/>
<rect x="425" y="112" width="1" height="8" fill="#32cd32"/>
<rect x="423" y="113" width="5" height="6" fill="#32cd32"/>
<rect x="433" y="110" width="1" height="18" fill="#32cd32"/>
<rect x="431" y="119" width="5" height="4" fill="#32cd32"/>
<rect x="441" y="111" width="1" height="42" fill="#32cd32"/>
<rect x="439" y="123" width="5" height="28" fill="#32cd32"/>
<rect x="449" y="146" width="1" height="28" fill="#32cd32"/>
<rect x="447" y="151" width="5" height="6" fill="#32cd32"/>
<rect x="457" y="135" width="1" height="35" fill="#ff4500"/>
<rect x="455" y="139" width="5" height="18" fill="#ff4500"/>
<rect x="465" y="124" width="1" height="21" fill="#32cd32"/>
<rect x="463" y="138" width="5" height="6" fill="#32cd32"/>
<rect x="473" y="94" width="1" height="51" fill="#ff4500"/>
<rect x="471" y="106" width="5" height="39" fill="#ff4500"/>
<rect x="481" y="100" width="1" height="17" fill="#32cd32"/>
<rect x="479" y="104" width="5" height="10" fill="#32cd32"/>
<rect x="489" y="104" width="1" height="19" fill="#32cd32"/>
<rect x="487" y="114" width="5" height="4" fill="#32cd32"/>
<rect x="497" y="100" width="1" height="19" fill="#ff4500"/>
<rect x="495" y="106" width="5" height="13" fill="#ff4500"/>
<rect x="505" y="102" width="1" height="70" fill="#32cd32"/>
<rect x="503" y="107" width="5" height="58" fill="#32cd32"/>
<rect x="513" y="154" width="1" height="81" fill="#32cd32"/>
<rect x="511" y="164" width="5" height="45" fill="#32cd32"/>
<rect x="521" y="188" width="1" height="24" fill="#ff4500"/>
<rect x="519" y="190" width="5" height="17" fill="#ff4500"/>
<rect x="529" y="181" width="1" height="30" fill="#ff4500"/>
<rect x="527" y="187" width="5" height="3" fill="#ff4500"/>
<rect x="537" y="185" width="1" height="36" fill="#32cd32"/>
<rect x="535" y="188" width="5" height="32" fill="#32cd32"/>
<rect x="545" y="213" width="1" height="27" fill="#32cd32"/>
<rect x="543" y="219" width="5" height="3" fill="#32cd32"/>
<rect x="553" y="185" width="1" height="64" fill="#ff4500"/>
<rect x="551" y="192" width="5" height="29" fill="#ff4500"/>
<rect x="561" y="148" width="1" height="48" fill="#ff4500"/>
<rect x="559" y="161" width="5" height="31" fill="#ff4500"/>
<rect x="569" y="156" width="1" height="16" fill="#32cd32"/>
<rect x="567" y="162" width="5" height="4" fill="#32cd32"/>
<rect x="577" y="163" width="1" height="12" fill="#32cd32"/>
<rect x="575" y="166" width="5" height="4" fill="#32cd32"/>
<rect x="585" y="155" width="1" height="28" fill="#ff4500"/>
<rect x="583" y="156" width="5" height="14" fill="#ff4500"/>
<rect x="593" y="139" width="1" height="22" fill="#ff4500"/>
<rect x="591" y="144" width="5" height="13" fill="#ff4500"/>
<rect x="601" y="143" width="1" height="77" fill="#32cd32"/>
<rect x="599" y="144" width="5" height="66" fill="#32cd32"/>
<rect x="609" y="156" width="1" height="60" fill="#ff4500"/>
<rect x="607" y="180" width="5" height="31" fill="#ff4500"/>
<rect x="617" y="171" width="1" height="13" fill="#32cd32"/>
<rect x="615" y="179" width="5" height="5" fill="#32cd32"/>
<rect x="625" y="180" width="1" height="21" fill="#32cd32"/>
<rect x="623" y="185" width="5" height="6" fill="#32cd32"/>
<rect x="633" y="163" width="1" height="30" fill="#ff4500"/>
<rect x="631" y="171" width="5" height="20" fill="#ff4500"/>
<rect x="641" y="144" width="1" height="29" fill="#ff4500"/>
<rect x="639" y="154" width="5" height="18" fill="#ff4500"/>
<rect x="649" y="150" width="1" height="75" fill="#32cd32"/>
<rect x="647" y="156" width="5" height="34" fill="#32cd32"/>
<rect x="657" y="187" width="1" height="81" fill="#32cd32"/>
<rect x="655" y="189" width="5" height="36" fill="#32cd32"/>
<rect x="665" y="217" width="1" height="7" fill="#ff4500"/>
<rect x="663" y="221" width="5" height="3" fill="#ff4500"/>
<rect x="673" y="202" width="1" height="10" fill="#ff4500"/>
<rect x="671" y="202" width="5" height="10" fill="#ff4500"/>
<rect x="681" y="183" width="1" height="24" fill="#ff4500"/>
<rect x="679" y="186" width="5" height="17" fill="#ff4500"/>
<rect x="689" y="186" width="1" height="15" fill="#32cd32"/>
<rect x="687" y="187" width="5" height="8" fill="#32cd32"/>
<rect x="697" y="183" width="1" height="24" fill="#32cd32"/>
<rect x="695" y="194" width="5" height="7" fill="#32cd32"/>
<rect x="705" y="175" width="1" height="44" fill="#ff4500"/>
<rect x="703" y="179" width="5" height="22" fill="#ff4500"/>
<rect x="713" y="166" width="1" height="25" fill="#32cd32"/>
<rect x="711" y="178" width="5" height="6" fill="#32cd32"/>
<rect x="721" y="160" width="1" height="27" fill="#ff4500"/>
<rect x="719" y="170" width="5" height="14" fill="#ff4500"/>
<rect x="729" y="146" width="1" height="28" fill="#ff4500"/>
<rect x="727" y="150" width="5" height="20" fill="#ff4500"/>
<rect x="737" y="141" width="1" height="18" fill="#32cd32"/>
<rect x="735" y="150" width="5" height="8" fill="#32cd32"/>
<rect x="745" y="148" width="1" height="24" fill="#32cd32"/>
<rect x="743" y="156" width="5" height="12" fill="#32cd32"/>
<rect x="753" y="142" width="1" height="104" fill="#32cd32"/>
<rect x="751" y="167" width="5" height="74" fill="#32cd32"/>
<rect x="761" y="240" width="1" height="48" fill="#32cd32"/>
<rect x="759" y="241" width="5" height="44" fill="#32cd32"/>
<rect x="769" y="268" width="1" height="24" fill="#ff4500"/>
<rect x="767" y="268" width="5" height="15" fill="#ff4500"/>
<rect x="777" y="260" width="1" height="23" fill="#32cd32"/>
<rect x="775" y="267" width="5" height="5" fill="#32cd32"/>
<rect x="785" y="269" width="1" height="53" fill="#32cd32"/>
<rect x="783" y="270" width="5" height="45" fill="#32cd32"/>
<rect x="793" y="311" width="1" height="33" fill="#32cd32"/>
<rect x="791" y="315" width="5" height="8" fill="#32cd32"/>
<rect x="801" y="316" width="1" height="120" fill="#32cd32"/>
<rect x="799" y="322" width="5" height="94" fill="#32cd32"/>
<rect x="809" y="396" width="1" height="61" fill="#32cd32"/>
<rect x="807" y="416" width="5" height="3" fill="#32cd32"/>
<rect x="817" y="412" width="1" height="32" fill="#32cd32"/>
<rect x="815" y="419" width="5" height="7" fill="#32cd32"/>
<rect x="825" y="410" width="1" height="27" fill="#ff4500"/>
<rect x="823" y="420" width="5" height="8" fill="#ff4500"/>
<rect x="833" y="403" width="1" height="35" fill="#ff4500"/>
<rect x="831" y="411" width="5" height="9" fill="#ff4500"/>
<rect x="841" y="403" width="1" height="44" fill="#32cd32"/>
<rect x="839" y="412" width="5" height="29" fill="#32cd32"/>
<rect x="849" y="386" width="1" height="121" fill="#ff4500"/>
<rect x="847" y="421" width="5" height="21" fill="#ff4500"/>
<rect x="857" y="360" width="1" height="62" fill="#ff4500"/>
<rect x="855" y="360" width="5" height="61" fill="#ff4500"/>
<rect x="865" y="356" width="1" height="16" fill="#32cd32"/>
<rect x="863" y="359" width="5" height="12" fill="#32cd32"/>
<rect x="873" y="363" width="1" height="12" fill="#ff4500"/>
<rect x="871" y="368" width="5" height="3" fill="#ff4500"/>
<rect x="881" y="342" width="1" height="39" fill="#32cd32"/>
<rect x="879" y="368" width="5" height="1" fill="#32cd32"/>
<rect x="889" y="363" width="1" height="31" fill="#32cd32"/>
<rect x="887" y="368" width="5" height="18" fill="#32cd32"/>
<rect x="897" y="288" width="1" height="102" fill="#ff4500"/>
<rect x="895" y="294" width="5" height="91" fill="#ff4500"/>
<rect x="905" y="249" width="1" height="50" fill="#ff4500"/>
<rect x="903" y="255" width="5" height="40" fill="#ff4500"/>
<rect x="913" y="250" width="1" height="12" fill="#000"/>
<rect x="911" y="257" width="5" height="1" fill="#000"/>
<rect x="921" y="276" width="1" height="10" fill="#32cd32"/>
<rect x="919" y="283" width="5" height="2" fill="#32cd32"/>
<rect x="929" y="278" width="1" height="19" fill="#32cd32"/>
<rect x="927" y="284" width="5" height="7" fill="#32cd32"/>
<rect x="937" y="276" width="1" height="20" fill="#ff4500"/>
<rect x="935" y="289" width="5" height="2" fill="#ff4500"/>
<rect x="945" y="266" width="1" height="31" fill="#ff4500"/>
<rect x="943" y="274" width="5" height="15" fill="#ff4500"/>
<rect x="953" y="244" width="1" height="55" fill="#ff4500"/>
<rect x="951" y="244" width="5" height="32" fill="#ff4500"/>
<rect x="961" y="233" width="1" height="59" fill="#32cd32"/>
<rect x="959" y="245" width="5" height="47" fill="#32cd32"/>
<rect x="969" y="288" width="1" height="12" fill="#000"/>
<rect x="967" y="292" width="5" height="1" fill="#000"/>
<rect x="977" y="259" width="1" height="36" fill="#ff4500"/>
<rect x="975" y="266" width="5" height="27" fill="#ff4500"/>
<rect x="985" y="257" width="1" height="45" fill="#32cd32"/>
<rect x="983" y="267" width="5" height="35" fill="#32cd32"/>
<rect x="993" y="290" width="1" height="72" fill="#32cd32"/>
<rect x="991" y="300" width="5" height="41" fill="#32cd32"/>
<rect x="1001" y="332" width="1" height="71" fill="#32cd32"/>
<rect x="999" y="340" width="5" height="45" fill="#32cd32"/>
<rect x="1009" y="324" width="1" height="89" fill="#32cd32"/>
<rect x="1007" y="385" width="5" height="27" fill="#32cd32"/>
<rect x="1017" y="397" width="1" height="22" fill="#ff4500"/>
<rect x="1015" y="409" width="5" height="2" fill="#ff4500"/>
<rect x="1025" y="380" width="1" height="28" fill="#ff4500"/>
<rect x="1023" y="386" width="5" height="22" fill="#ff4500"/>
<rect x="1033" y="371" width="1" height="39" fill="#32cd32"/>
<rect x="1031" y="385" width="5" height="3" fill="#32cd32"/>
<rect x="1041" y="298" width="1" height="93" fill="#ff4500"/>
<rect x="1039" y="335" width="5" height="53" fill="#ff4500"/>
<rect x="1049" y="333" width="1" height="38" fill="#32cd32"/>
<rect x="1047" y="336" width="5" height="12" fill="#32cd32"/>
<rect x="1057" y="311" width="1" height="37" fill="#ff4500"/>
<rect x="1055" y="338" width="5" height="10" fill="#ff4500"/>
<rect x="1065" y="327" width="1" height="110" fill="#32cd32"/>
<rect x="1063" y="339" width="5" height="57" fill="#32cd32"/>
<rect x="1073" y="329" width="1" height="96" fill="#ff4500"/>
<rect x="1071" y="353" width="5" height="46" fill="#ff4500"/>
<rect x="1081" y="337" width="1" height="34" fill="#32cd32"/>
<rect x="1079" y="353" width="5" height="8" fill="#32cd32"/>
<rect x="1089" y="328" width="1" height="38" fill="#ff4500"/>
<rect x="1087" y="356" width="5" height="5" fill="#ff4500"/>
<rect x="1097" y="262" width="1" height="96" fill="#ff4500"/>
<rect x="1095" y="268" width="5" height="88" fill="#ff4500"/>
<rect x="1105" y="267" width="1" height="53" fill="#32cd32"/>
<rect x="1103" y="269" width="5" height="22" fill="#32cd32"/>
<rect x="1113" y="242" width="1" height="49" fill="#ff4500"/>
<rect x="1111" y="265" width="5" height="26" fill="#ff4500"/>
<rect x="1121" y="253" width="1" height="26" fill="#ff4500"/>
<rect x="1119" y="255" width="5" height="11" fill="#ff4500"/>
<rect x="1129" y="242" width="1" height="21" fill="#ff4500"/>
<rect x="1127" y="245" width="5" height="12" fill="#ff4500"/>
<rect x="1137" y="194" width="1" height="52" fill="#ff4500"/>
<rect x="1135" y="204" width="5" height="41" fill="#ff4500"/>
<rect x="1145" y="143" width="1" height="73" fill="#ff4500"/>
<rect x="1143" y="168" width="5" height="37" fill="#ff4500"/>
<rect x="1153" y="145" width="1" height="67" fill="#32cd32"/>
<rect x="1151" y="167" width="5" height="42" fill="#32cd32"/>
<rect x="1161" y="196" width="1" height="25" fill="#ff4500"/>
<rect x="1159" y="203" width="5" height="5" fill="#ff4500"/>
<rect x="1169" y="173" width="1" height="13" fill="#ff4500"/>
<rect x="1167" y="173" width="5" height="11" fill="#ff4500"/>
<rect x="1177" y="172" width="1" height="36" fill="#32cd32"/>
<rect x="1175" y="173" width="5" height="11" fill="#32cd32"/>
<rect x="1185" y="177" width="1" height="38" fill="#32cd32"/>
<rect x="1183" y="183" width="5" height="31" fill="#32cd32"/>
<rect x="1193" y="202" width="1" height="45" fill="#32cd32"/>
<rect x="1191" y="213" width="5" height="5" fill="#32cd32"/>
<rect x="1201" y="198" width="1" height="31" fill="#ff4500"/>
<rect x="1199" y="207" width="5" height="10" fill="#ff4500"/>
<rect x="1209" y="202" width="1" height="17" fill="#32cd32"/>
<rect x="1207" y="208" width="5" height="9" fill="#32cd32"/>
<rect x="1217" y="195" width="1" height="27" fill="#ff4500"/>
<rect x="1215" y="197" width="5" height="19" fill="#ff4500"/>
<rect x="1225" y="195" width="1" height="17" fill="#32cd32"/>
<rect x="1223" y="198" width="5" height="3" fill="#32cd32"/>
<rect x="1233" y="172" width="1" height="29" fill="#ff4500"/>
<rect x="1231" y="180" width="5" height="20" fill="#ff4500"/>
<rect x="1241" y="172" width="1" height="29" fill="#32cd32"/>
<rect x="1239" y="179" width="5" height="15" fill="#32cd32"/>
<rect x="1249" y="121" width="1" height="78" fill="#ff4500"/>
<rect x="1247" y="130" width="5" height="63" fill="#ff4500"/>
<rect x="1257" y="118" width="1" height="22" fill="#32cd32"/>
<rect x="1255" y="129" width="5" height="10" fill="#32cd32"/>
<rect x="1265" y="131" width="1" height="13" fill="#32cd32"/>
<rect x="1263" y="139" width="5" height="2" fill="#32cd32"/>
<rect x="1273" y="135" width="1" height="25" fill="#32cd32"/>
<rect x="1271" y="139" width="5" height="20" fill="#32cd32"/>
<rect x="1281" y="137" width="1" height="25" fill="#ff4500"/>
<rect x="1279" y="150" width="5" height="8" fill="#ff4500"/>
<rect x="1289" y="143" width="1" height="24" fill="#ff4500"/>
<rect x="1287" y="147" width="5" height="3" fill="#ff4500"/>
<rect x="1297" y="133" width="1" height="33" fill="#ff4500"/>
<rect x="1295" y="145" width="5" height="4" fill="#ff4500"/>
<rect x="1305" y="141" width="1" height="24" fill="#32cd32"/>
<rect x="1303" y="144" width="5" height="9" fill="#32cd32"/>
<rect x="1313" y="145" width="1" height="9" fill="#32cd32"/>
<rect x="1311" y="150" width="5" height="2" fill="#32cd32"/>
</g>
<path d="M1321 39h11l-5.5 6z" fill="#c0c0c0"/>
<g fill="#ff2a14" shape-rendering="auto">
<text x="123.400" y="455.200" font-size="50.800" fill="#ff2a14" textLength="254" lengthAdjust="spacingAndGlyphs" style="font-family:'Liberation Sans','Noto Sans CJK SC',sans-serif">多空转折点</text>
<text x="375.600" y="451.600" font-size="51.200" fill="#ff2a14" textLength="114.800" lengthAdjust="spacingAndGlyphs" style="font-family:'Liberation Sans','Noto Sans CJK SC',sans-serif">2990</text>
</g>
<rect x="9" y="536" width="1" height="8" fill="#c0c0c0"/>
<rect x="17" y="536" width="1" height="8" fill="#c0c0c0"/>
<rect x="25" y="536" width="1" height="8" fill="#c0c0c0"/>
<rect x="33" y="536" width="1" height="8" fill="#c0c0c0"/>
<rect x="41" y="536" width="1" height="8" fill="#c0c0c0"/>
<rect x="49" y="536" width="1" height="8" fill="#c0c0c0"/>
<rect x="57" y="536" width="1" height="8" fill="#c0c0c0"/>
<rect x="65" y="536" width="1" height="8" fill="#c0c0c0"/>
<rect x="73" y="536" width="1" height="8" fill="#c0c0c0"/>
<rect x="81" y="536" width="1" height="8" fill="#c0c0c0"/>
<rect x="89" y="536" width="1" height="8" fill="#c0c0c0"/>
<rect x="97" y="536" width="1" height="8" fill="#c0c0c0"/>
<rect x="105" y="536" width="1" height="8" fill="#c0c0c0"/>
<rect x="113" y="536" width="1" height="8" fill="#c0c0c0"/>
<rect x="121" y="536" width="1" height="8" fill="#c0c0c0"/>
<rect x="129" y="536" width="1" height="8" fill="#c0c0c0"/>
<rect x="137" y="536" width="1" height="8" fill="#c0c0c0"/>
<rect x="145" y="536" width="1" height="8" fill="#c0c0c0"/>
<rect x="153" y="536" width="1" height="8" fill="#c0c0c0"/>
<rect x="161" y="536" width="1" height="8" fill="#c0c0c0"/>
<rect x="169" y="536" width="1" height="8" fill="#c0c0c0"/>
<rect x="177" y="536" width="1" height="8" fill="#c0c0c0"/>
<rect x="185" y="536" width="1" height="8" fill="#c0c0c0"/>
<rect x="193" y="538" width="1" height="6" fill="#c0c0c0"/>
<rect x="201" y="539" width="1" height="5" fill="#c0c0c0"/>
<rect x="209" y="540" width="1" height="4" fill="#c0c0c0"/>
<rect x="217" y="540" width="1" height="4" fill="#c0c0c0"/>
<rect x="225" y="540" width="1" height="4" fill="#c0c0c0"/>
<rect x="233" y="541" width="1" height="3" fill="#c0c0c0"/>
<rect x="241" y="541" width="1" height="3" fill="#c0c0c0"/>
<rect x="249" y="541" width="1" height="3" fill="#c0c0c0"/>
<rect x="257" y="542" width="1" height="2" fill="#c0c0c0"/>
<rect x="265" y="542" width="1" height="2" fill="#c0c0c0"/>
<rect x="273" y="541" width="1" height="3" fill="#c0c0c0"/>
<rect x="281" y="541" width="1" height="3" fill="#c0c0c0"/>
<rect x="289" y="541" width="1" height="3" fill="#c0c0c0"/>
<rect x="297" y="541" width="1" height="3" fill="#c0c0c0"/>
<rect x="305" y="541" width="1" height="3" fill="#c0c0c0"/>
<rect x="313" y="541" width="1" height="3" fill="#c0c0c0"/>
<rect x="321" y="541" width="1" height="3" fill="#c0c0c0"/>
<rect x="329" y="541" width="1" height="3" fill="#c0c0c0"/>
<rect x="337" y="542" width="1" height="2" fill="#c0c0c0"/>
<rect x="345" y="541" width="1" height="3" fill="#c0c0c0"/>
<rect x="353" y="541" width="1" height="3" fill="#c0c0c0"/>
<rect x="361" y="541" width="1" height="3" fill="#c0c0c0"/>
<rect x="369" y="541" width="1" height="3" fill="#c0c0c0"/>
<rect x="377" y="541" width="1" height="3" fill="#c0c0c0"/>
<rect x="385" y="540" width="1" height="4" fill="#c0c0c0"/>
<rect x="393" y="540" width="1" height="4" fill="#c0c0c0"/>
<rect x="401" y="540" width="1" height="4" fill="#c0c0c0"/>
<rect x="409" y="542" width="1" height="2" fill="#c0c0c0"/>
<rect x="417" y="543" width="1" height="1" fill="#c0c0c0"/>
<rect x="425" y="543" width="1" height="1" fill="#c0c0c0"/>
<rect x="433" y="543" width="1" height="1" fill="#c0c0c0"/>
<rect x="449" y="543" width="1" height="2" fill="#c0c0c0"/>
<rect x="457" y="543" width="1" height="3" fill="#c0c0c0"/>
<rect x="465" y="543" width="1" height="3" fill="#c0c0c0"/>
<rect x="473" y="543" width="1" height="1" fill="#c0c0c0"/>
<rect x="481" y="543" width="1" height="1" fill="#c0c0c0"/>
<rect x="489" y="543" width="1" height="1" fill="#c0c0c0"/>
<rect x="505" y="543" width="1" height="1" fill="#c0c0c0"/>
<rect x="513" y="543" width="1" height="4" fill="#c0c0c0"/>
<rect x="521" y="543" width="1" height="6" fill="#c0c0c0"/>
<rect x="529" y="543" width="1" height="7" fill="#c0c0c0"/>
<rect x="537" y="543" width="1" height="9" fill="#c0c0c0"/>
<rect x="545" y="543" width="1" height="11" fill="#c0c0c0"/>
<rect x="553" y="543" width="1" height="11" fill="#c0c0c0"/>
<rect x="561" y="543" width="1" height="10" fill="#c0c0c0"/>
<rect x="569" y="543" width="1" height="8" fill="#c0c0c0"/>
<rect x="577" y="543" width="1" height="7" fill="#c0c0c0"/>
<rect x="585" y="543" width="1" height="7" fill="#c0c0c0"/>
<rect x="593" y="543" width="1" height="6" fill="#c0c0c0"/>
<rect x="601" y="543" width="1" height="6" fill="#c0c0c0"/>
<rect x="609" y="543" width="1" height="6" fill="#c0c0c0"/>
<rect x="617" y="543" width="1" height="6" fill="#c0c0c0"/>
<rect x="625" y="543" width="1" height="6" fill="#c0c0c0"/>
<rect x="633" y="543" width="1" height="6" fill="#c0c0c0"/>
<rect x="641" y="543" width="1" height="4" fill="#c0c0c0"/>
<rect x="649" y="543" width="1" height="5" fill="#c0c0c0"/>
<rect x="657" y="543" width="1" height="5" fill="#c0c0c0"/>
<rect x="665" y="543" width="1" height="5" fill="#c0c0c0"/>
<rect x="673" y="543" width="1" height="5" fill="#c0c0c0"/>
<rect x="681" y="543" width="1" height="5" fill="#c0c0c0"/>
<rect x="689" y="543" width="1" height="5" fill="#c0c0c0"/>
<rect x="697" y="543" width="1" height="5" fill="#c0c0c0"/>
<rect x="705" y="543" width="1" height="5" fill="#c0c0c0"/>
<rect x="713" y="543" width="1" height="5" fill="#c0c0c0"/>
<rect x="721" y="543" width="1" height="3" fill="#c0c0c0"/>
<rect x="729" y="543" width="1" height="1" fill="#c0c0c0"/>
<rect x="737" y="543" width="1" height="1" fill="#c0c0c0"/>
<rect x="745" y="543" width="1" height="1" fill="#c0c0c0"/>
<rect x="753" y="543" width="1" height="2" fill="#c0c0c0"/>
<rect x="761" y="543" width="1" height="4" fill="#c0c0c0"/>
<rect x="769" y="543" width="1" height="8" fill="#c0c0c0"/>
<rect x="777" y="543" width="1" height="10" fill="#c0c0c0"/>
<rect x="785" y="543" width="1" height="11" fill="#c0c0c0"/>
<rect x="793" y="543" width="1" height="15" fill="#c0c0c0"/>
<rect x="801" y="543" width="1" height="20" fill="#c0c0c0"/>
<rect x="809" y="543" width="1" height="23" fill="#c0c0c0"/>
<rect x="817" y="543" width="1" height="28" fill="#c0c0c0"/>
<rect x="825" y="543" width="1" height="30" fill="#c0c0c0"/>
<rect x="833" y="543" width="1" height="31" fill="#c0c0c0"/>
<rect x="841" y="543" width="1" height="31" fill="#c0c0c0"/>
<rect x="849" y="543" width="1" height="33" fill="#c0c0c0"/>
<rect x="857" y="543" width="1" height="31" fill="#c0c0c0"/>
<rect x="865" y="543" width="1" height="29" fill="#c0c0c0"/>
<rect x="873" y="543" width="1" height="26" fill="#c0c0c0"/>
<rect x="881" y="543" width="1" height="24" fill="#c0c0c0"/>
<rect x="889" y="543" width="1" height="22" fill="#c0c0c0"/>
<rect x="897" y="543" width="1" height="19" fill="#c0c0c0"/>
<rect x="905" y="543" width="1" height="13" fill="#c0c0c0"/>
<rect x="913" y="543" width="1" height="9" fill="#c0c0c0"/>
<rect x="921" y="543" width="1" height="7" fill="#c0c0c0"/>
<rect x="929" y="543" width="1" height="5" fill="#c0c0c0"/>
<rect x="937" y="543" width="1" height="3" fill="#c0c0c0"/>
<rect x="945" y="543" width="1" height="1" fill="#c0c0c0"/>
<rect x="953" y="543" width="1" height="1" fill="#c0c0c0"/>
<rect x="961" y="542" width="1" height="2" fill="#c0c0c0"/>
<rect x="969" y="542" width="1" height="2" fill="#c0c0c0"/>
<rect x="977" y="541" width="1" height="3" fill="#c0c0c0"/>
<rect x="985" y="541" width="1" height="3" fill="#c0c0c0"/>
<rect x="993" y="542" width="1" height="2" fill="#c0c0c0"/>
<rect x="1001" y="543" width="1" height="1" fill="#c0c0c0"/>
<rect x="1009" y="543" width="1" height="5" fill="#c0c0c0"/>
<rect x="1017" y="543" width="1" height="8" fill="#c0c0c0"/>
<rect x="1025" y="543" width="1" height="10" fill="#c0c0c0"/>
<rect x="1033" y="543" width="1" height="11" fill="#c0c0c0"/>
<rect x="1041" y="543" width="1" height="9" fill="#c0c0c0"/>
<rect x="1049" y="543" width="1" height="8" fill="#c0c0c0"/>
<rect x="1057" y="543" width="1" height="7" fill="#c0c0c0"/>
<rect x="1065" y="543" width="1" height="8" fill="#c0c0c0"/>
<rect x="1073" y="543" width="1" height="7" fill="#c0c0c0"/>
<rect x="1081" y="543" width="1" height="5" fill="#c0c0c0"/>
<rect x="1089" y="543" width="1" height="5" fill="#c0c0c0"/>
<rect x="1097" y="543" width="1" height="3" fill="#c0c0c0"/>
<rect x="1105" y="543" width="1" height="1" fill="#c0c0c0"/>
<rect x="1113" y="543" width="1" height="1" fill="#c0c0c0"/>
<rect x="1121" y="540" width="1" height="4" fill="#c0c0c0"/>
<rect x="1129" y="538" width="1" height="6" fill="#c0c0c0"/>
<rect x="1137" y="535" width="1" height="9" fill="#c0c0c0"/>
<rect x="1145" y="531" width="1" height="13" fill="#c0c0c0"/>
<rect x="1153" y="529" width="1" height="15" fill="#c0c0c0"/>
<rect x="1161" y="528" width="1" height="16" fill="#c0c0c0"/>
<rect x="1169" y="526" width="1" height="18" fill="#c0c0c0"/>
<rect x="1177" y="525" width="1" height="19" fill="#c0c0c0"/>
<rect x="1185" y="525" width="1" height="19" fill="#c0c0c0"/>
<rect x="1193" y="526" width="1" height="18" fill="#c0c0c0"/>
<rect x="1201" y="527" width="1" height="17" fill="#c0c0c0"/>
<rect x="1209" y="528" width="1" height="16" fill="#c0c0c0"/>
<rect x="1217" y="528" width="1" height="16" fill="#c0c0c0"/>
<rect x="1225" y="529" width="1" height="15" fill="#c0c0c0"/>
<rect x="1233" y="529" width="1" height="15" fill="#c0c0c0"/>
<rect x="1241" y="529" width="1" height="15" fill="#c0c0c0"/>
<rect x="1249" y="528" width="1" height="16" fill="#c0c0c0"/>
<rect x="1257" y="527" width="1" height="17" fill="#c0c0c0"/>
<rect x="1265" y="527" width="1" height="17" fill="#c0c0c0"/>
<rect x="1273" y="526" width="1" height="18" fill="#c0c0c0"/>
<rect x="1281" y="527" width="1" height="17" fill="#c0c0c0"/>
<rect x="1289" y="527" width="1" height="17" fill="#c0c0c0"/>
<rect x="1297" y="527" width="1" height="17" fill="#c0c0c0"/>
<rect x="1305" y="528" width="1" height="16" fill="#c0c0c0"/>
<rect x="1313" y="528" width="1" height="16" fill="#c0c0c0"/>
<path d="M525 546h3v1h-3zM531 546h3v1h-3zM537 546h3v1h-3zM748 546h2v1h-2zM753 546h3v1h-3zM759 546h3v1h-3zM970 546h2v1h-2zM1029 546h3v1h-3zM1125 546h3v1h-3zM831 562h1v1h-1zM921 562h3v1h-3zM555 549h3v1h-3zM639 549h3v1h-3zM645 549h3v1h-3zM651 549h3v1h-3zM657 549h3v1h-3zM663 549h3v1h-3zM669 549h3v1h-3zM675 549h3v1h-3zM681 549h3v1h-3zM687 549h3v1h-3zM693 549h3v1h-3zM699 549h3v1h-3zM705 549h3v1h-3zM711 549h3v1h-3zM717 549h3v1h-3zM723 549h3v1h-3zM790 549h2v1h-2zM1047 549h3v1h-3zM1053 549h2v1h-2zM1113 549h3v1h-3zM15 526h2v1h-2zM141 526h3v1h-3zM147 526h3v1h-3zM153 526h3v1h-3zM159 526h2v1h-2zM1205 526h1v1h-1zM1209 526h3v1h-3zM1215 526h3v1h-3zM1221 526h3v1h-3zM1227 526h3v1h-3zM1233 526h3v1h-3zM1239 526h3v1h-3zM1245 526h2v1h-2zM1277 526h1v1h-1zM1281 526h3v1h-3zM1287 526h3v1h-3zM1293 526h3v1h-3zM1299 526h3v1h-3zM1305 526h3v1h-3zM1311 526h2v1h-2zM585 552h3v1h-3zM591 552h3v1h-3zM597 552h3v1h-3zM603 552h2v1h-2zM802 552h2v1h-2zM951 552h3v1h-3zM1071 552h3v1h-3zM1077 552h3v1h-3zM1083 552h3v1h-3zM1089 552h3v1h-3zM1095 552h3v1h-3zM197 531h1v1h-1zM201 531h3v1h-3zM1179 531h3v1h-3zM549 548h3v1h-3zM729 548h3v1h-3zM735 548h1v1h-1zM783 548h3v1h-3zM789 548h1v1h-1zM963 548h3v1h-3zM1041 548h3v1h-3zM861 571h3v1h-3zM897 571h2v1h-2zM466 543h2v1h-2zM471 543h3v1h-3zM987 543h3v1h-3zM993 543h3v1h-3zM999 543h3v1h-3zM1005 543h3v1h-3zM1011 543h3v1h-3zM263 540h1v1h-1zM267 540h3v1h-3zM273 540h3v1h-3zM279 540h3v1h-3zM285 540h3v1h-3zM291 540h3v1h-3zM297 540h3v1h-3zM303 540h3v1h-3zM309 540h3v1h-3zM315 540h3v1h-3zM321 540h3v1h-3zM327 540h3v1h-3zM333 540h3v1h-3zM339 540h3v1h-3zM345 540h3v1h-3zM351 540h3v1h-3zM357 540h3v1h-3zM363 540h3v1h-3zM369 540h3v1h-3zM375 540h3v1h-3zM381 540h3v1h-3zM387 540h2v1h-2zM430 540h2v1h-2zM435 540h3v1h-3zM441 540h3v1h-3zM1150 540h2v1h-2zM39 529h3v1h-3zM45 529h3v1h-3zM51 529h3v1h-3zM57 529h3v1h-3zM63 529h3v1h-3zM69 529h3v1h-3zM75 529h3v1h-3zM81 529h3v1h-3zM87 529h3v1h-3zM183 529h3v1h-3zM855 570h3v1h-3zM899 570h1v1h-1zM249 539h3v1h-3zM255 539h3v1h-3zM261 539h2v1h-2zM389 539h1v1h-1zM393 539h3v1h-3zM399 539h3v1h-3zM405 539h3v1h-3zM411 539h3v1h-3zM417 539h3v1h-3zM423 539h3v1h-3zM429 539h1v1h-1zM844 567h2v1h-2zM909 567h3v1h-3zM17 527h1v1h-1zM21 527h2v1h-2zM118 527h2v1h-2zM123 527h3v1h-3zM129 527h3v1h-3zM135 527h3v1h-3zM161 527h1v1h-1zM165 527h3v1h-3zM171 527h3v1h-3zM1198 527h2v1h-2zM1203 527h2v1h-2zM1247 527h1v1h-1zM1251 527h3v1h-3zM1257 527h3v1h-3zM1263 527h3v1h-3zM1269 527h3v1h-3zM1275 527h2v1h-2zM543 547h3v1h-3zM736 547h2v1h-2zM741 547h3v1h-3zM747 547h1v1h-1zM765 547h3v1h-3zM771 547h3v1h-3zM777 547h3v1h-3zM969 547h1v1h-1zM1035 547h3v1h-3zM1119 547h3v1h-3zM219 534h3v1h-3zM1168 534h2v1h-2zM561 550h3v1h-3zM621 550h3v1h-3zM627 550h3v1h-3zM633 550h3v1h-3zM795 550h3v1h-3zM957 550h3v1h-3zM1055 550h1v1h-1zM1059 550h3v1h-3zM1107 550h3v1h-3zM838 565h2v1h-2zM915 565h1v1h-1zM207 532h3v1h-3zM1174 532h2v1h-2zM23 528h1v1h-1zM27 528h3v1h-3zM33 528h3v1h-3zM93 528h3v1h-3zM99 528h3v1h-3zM105 528h3v1h-3zM111 528h3v1h-3zM117 528h1v1h-1zM177 528h3v1h-3zM1191 528h3v1h-3zM1197 528h1v1h-1zM237 537h3v1h-3zM1161 537h1v1h-1zM567 551h3v1h-3zM573 551h3v1h-3zM579 551h3v1h-3zM605 551h1v1h-1zM609 551h3v1h-3zM615 551h3v1h-3zM801 551h1v1h-1zM1065 551h3v1h-3zM1101 551h3v1h-3zM477 544h3v1h-3zM483 544h3v1h-3zM489 544h3v1h-3zM495 544h3v1h-3zM501 544h3v1h-3zM507 544h3v1h-3zM981 544h3v1h-3zM1017 544h3v1h-3zM1137 544h3v1h-3zM9 525h3v1h-3zM807 553h1v1h-1zM947 553h1v1h-1zM453 542h3v1h-3zM459 542h3v1h-3zM465 542h1v1h-1zM1143 542h3v1h-3zM820 558h2v1h-2zM933 558h2v1h-2zM808 554h2v1h-2zM945 554h2v1h-2zM189 530h3v1h-3zM195 530h2v1h-2zM1185 530h3v1h-3zM225 535h3v1h-3zM1167 535h1v1h-1zM513 545h3v1h-3zM519 545h3v1h-3zM975 545h3v1h-3zM1023 545h3v1h-3zM1131 545h3v1h-3zM837 564h1v1h-1zM916 564h2v1h-2zM867 572h3v1h-3zM873 572h3v1h-3zM879 572h3v1h-3zM885 572h3v1h-3zM891 572h3v1h-3zM849 568h2v1h-2zM814 556h2v1h-2zM939 556h2v1h-2zM213 533h3v1h-3zM1173 533h1v1h-1zM447 541h3v1h-3zM1149 541h1v1h-1zM243 538h3v1h-3zM1155 538h3v1h-3zM825 560h2v1h-2zM927 560h2v1h-2zM819 557h1v1h-1zM935 557h1v1h-1zM851 569h1v1h-1zM903 569h3v1h-3zM231 536h3v1h-3zM1162 536h2v1h-2zM843 566h1v1h-1zM929 559h1v1h-1zM832 563h2v1h-2zM827 561h1v1h-1zM813 555h1v1h-1zM941 555h1v1h-1z" fill="#ff0000"/>
<line x1="10" y1="619.5" x2="1657" y2="619.5" stroke="#c0c0c0" stroke-dasharray="3 3"/>
<line x1="10" y1="669.5" x2="1657" y2="669.5" stroke="#c0c0c0" stroke-dasharray="3 3"/>
<path d="M58 624h2v1h-2zM112 624h1v1h-1zM115 624h2v1h-2zM149 624h1v1h-1zM1139 624h1v1h-1zM1148 624h1v1h-1zM1248 624h1v1h-1zM1252 624h3v1h-3zM11 641h1v1h-1zM172 641h1v1h-1zM221 641h3v1h-3zM227 641h2v1h-2zM258 641h1v1h-1zM299 641h2v1h-2zM307 641h1v1h-1zM325 641h1v1h-1zM340 641h3v1h-3zM403 641h1v1h-1zM472 641h1v1h-1zM479 641h7v1h-7zM491 641h2v1h-2zM498 641h1v1h-1zM592 641h2v1h-2zM722 641h2v1h-2zM741 641h3v1h-3zM896 641h1v1h-1zM960 641h1v1h-1zM972 641h2v1h-2zM980 641h1v1h-1zM1092 641h1v1h-1zM176 649h1v1h-1zM187 649h2v1h-2zM209 649h1v1h-1zM406 649h1v1h-1zM422 649h1v1h-1zM436 649h1v1h-1zM457 649h5v1h-5zM466 649h1v1h-1zM502 649h1v1h-1zM558 649h1v1h-1zM597 649h1v1h-1zM609 649h11v1h-11zM628 649h2v1h-2zM648 649h1v1h-1zM676 649h3v1h-3zM692 649h3v1h-3zM698 649h1v1h-1zM748 649h1v1h-1zM893 649h1v1h-1zM988 649h1v1h-1zM1038 649h1v1h-1zM1060 649h1v1h-1zM1071 649h1v1h-1zM760 665h1v1h-1zM762 665h2v1h-2zM781 665h1v1h-1zM852 665h1v1h-1zM14 638h1v1h-1zM171 638h1v1h-1zM261 638h2v1h-2zM280 638h6v1h-6zM291 638h2v1h-2zM309 638h1v1h-1zM322 638h1v1h-1zM346 638h1v1h-1zM360 638h1v1h-1zM367 638h7v1h-7zM401 638h1v1h-1zM727 638h2v1h-2zM732 638h3v1h-3zM898 638h1v1h-1zM920 638h1v1h-1zM941 638h3v1h-3zM958 638h1v1h-1zM977 638h1v1h-1zM1094 638h1v1h-1zM16 635h1v1h-1zM22 635h8v1h-8zM166 635h4v1h-4zM265 635h5v1h-5zM275 635h1v1h-1zM311 635h1v1h-1zM316 635h3v1h-3zM348 635h1v1h-1zM358 635h1v1h-1zM383 635h7v1h-7zM395 635h2v1h-2zM902 635h2v1h-2zM915 635h2v1h-2zM948 635h2v1h-2zM955 635h1v1h-1zM1096 635h1v1h-1zM1100 635h3v1h-3zM1108 635h3v1h-3zM1190 635h6v1h-6zM1207 635h4v1h-4zM63 621h2v1h-2zM88 621h1v1h-1zM99 621h2v1h-2zM107 621h2v1h-2zM132 621h3v1h-3zM147 621h1v1h-1zM1144 621h2v1h-2zM790 669h4v1h-4zM850 669h1v1h-1zM512 662h1v1h-1zM514 662h2v1h-2zM536 662h1v1h-1zM546 662h1v1h-1zM756 662h1v1h-1zM767 662h2v1h-2zM774 662h4v1h-4zM854 662h1v1h-1zM1008 662h10v1h-10zM175 646h1v1h-1zM195 646h2v1h-2zM204 646h2v1h-2zM213 646h1v1h-1zM329 646h2v1h-2zM405 646h1v1h-1zM424 646h1v1h-1zM430 646h4v1h-4zM468 646h1v1h-1zM501 646h1v1h-1zM561 646h5v1h-5zM580 646h3v1h-3zM596 646h1v1h-1zM633 646h2v1h-2zM645 646h1v1h-1zM702 646h2v1h-2zM747 646h1v1h-1zM894 646h1v1h-1zM985 646h1v1h-1zM1040 646h1v1h-1zM1044 646h3v1h-3zM1052 646h3v1h-3zM1058 646h1v1h-1zM1090 646h1v1h-1zM66 619h1v1h-1zM85 619h2v1h-2zM104 619h2v1h-2zM142 619h4v1h-4zM13 639h1v1h-1zM171 639h1v1h-1zM260 639h1v1h-1zM293 639h3v1h-3zM308 639h1v1h-1zM323 639h1v1h-1zM346 639h1v1h-1zM360 639h1v1h-1zM364 639h3v1h-3zM402 639h1v1h-1zM473 639h3v1h-3zM496 639h2v1h-2zM726 639h1v1h-1zM735 639h4v1h-4zM897 639h1v1h-1zM921 639h5v1h-5zM939 639h2v1h-2zM959 639h1v1h-1zM975 639h2v1h-2zM978 639h1v1h-1zM1094 639h1v1h-1zM175 647h1v1h-1zM192 647h3v1h-3zM206 647h1v1h-1zM211 647h2v1h-2zM405 647h1v1h-1zM424 647h1v1h-1zM434 647h1v1h-1zM467 647h1v1h-1zM501 647h1v1h-1zM560 647h1v1h-1zM566 647h8v1h-8zM579 647h1v1h-1zM596 647h1v1h-1zM631 647h2v1h-2zM646 647h1v1h-1zM680 647h6v1h-6zM701 647h1v1h-1zM747 647h1v1h-1zM894 647h1v1h-1zM986 647h1v1h-1zM1040 647h1v1h-1zM1047 647h5v1h-5zM1059 647h1v1h-1zM1073 647h5v1h-5zM1086 647h4v1h-4zM15 637h1v1h-1zM170 637h1v1h-1zM263 637h1v1h-1zM279 637h1v1h-1zM286 637h5v1h-5zM310 637h1v1h-1zM320 637h2v1h-2zM347 637h1v1h-1zM359 637h1v1h-1zM374 637h6v1h-6zM400 637h2v1h-2zM729 637h3v1h-3zM899 637h2v1h-2zM918 637h2v1h-2zM944 637h2v1h-2zM957 637h1v1h-1zM1095 637h1v1h-1zM1104 637h3v1h-3zM175 648h1v1h-1zM189 648h3v1h-3zM207 648h2v1h-2zM210 648h1v1h-1zM406 648h1v1h-1zM423 648h1v1h-1zM435 648h1v1h-1zM466 648h1v1h-1zM502 648h1v1h-1zM559 648h1v1h-1zM574 648h5v1h-5zM597 648h1v1h-1zM630 648h1v1h-1zM647 648h1v1h-1zM679 648h1v1h-1zM686 648h6v1h-6zM699 648h2v1h-2zM748 648h1v1h-1zM893 648h1v1h-1zM987 648h1v1h-1zM1039 648h1v1h-1zM1059 648h1v1h-1zM1072 648h1v1h-1zM1078 648h8v1h-8zM54 627h1v1h-1zM151 627h1v1h-1zM352 627h1v1h-1zM354 627h1v1h-1zM1134 627h2v1h-2zM1150 627h1v1h-1zM1164 627h3v1h-3zM1175 627h3v1h-3zM1246 627h1v1h-1zM1266 627h2v1h-2zM17 634h5v1h-5zM30 634h5v1h-5zM161 634h5v1h-5zM270 634h5v1h-5zM312 634h1v1h-1zM315 634h1v1h-1zM348 634h1v1h-1zM358 634h1v1h-1zM390 634h5v1h-5zM904 634h1v1h-1zM914 634h1v1h-1zM950 634h1v1h-1zM955 634h1v1h-1zM1096 634h1v1h-1zM1099 634h1v1h-1zM1111 634h1v1h-1zM1185 634h5v1h-5zM1196 634h3v1h-3zM1204 634h3v1h-3zM1211 634h2v1h-2zM11 642h1v1h-1zM173 642h1v1h-1zM219 642h2v1h-2zM229 642h3v1h-3zM254 642h4v1h-4zM301 642h3v1h-3zM306 642h1v1h-1zM325 642h1v1h-1zM336 642h4v1h-4zM403 642h1v1h-1zM471 642h1v1h-1zM486 642h5v1h-5zM499 642h1v1h-1zM589 642h3v1h-3zM594 642h1v1h-1zM640 642h2v1h-2zM720 642h2v1h-2zM744 642h2v1h-2zM896 642h1v1h-1zM961 642h5v1h-5zM970 642h2v1h-2zM981 642h1v1h-1zM1092 642h1v1h-1zM62 622h1v1h-1zM89 622h10v1h-10zM109 622h1v1h-1zM120 622h12v1h-12zM147 622h1v1h-1zM1143 622h1v1h-1zM1146 622h1v1h-1zM409 655h3v1h-3zM418 655h1v1h-1zM446 655h4v1h-4zM506 655h1v1h-1zM552 655h1v1h-1zM600 655h1v1h-1zM602 655h1v1h-1zM655 655h1v1h-1zM666 655h2v1h-2zM751 655h1v1h-1zM857 655h3v1h-3zM891 655h1v1h-1zM995 655h2v1h-2zM1034 655h1v1h-1zM1065 655h1v1h-1zM177 650h1v1h-1zM182 650h5v1h-5zM407 650h1v1h-1zM422 650h1v1h-1zM437 650h1v1h-1zM456 650h1v1h-1zM462 650h4v1h-4zM503 650h1v1h-1zM557 650h1v1h-1zM598 650h1v1h-1zM608 650h1v1h-1zM620 650h3v1h-3zM626 650h2v1h-2zM649 650h1v1h-1zM675 650h1v1h-1zM695 650h3v1h-3zM749 650h1v1h-1zM893 650h1v1h-1zM989 650h2v1h-2zM1037 650h1v1h-1zM1061 650h1v1h-1zM1070 650h1v1h-1zM412 656h3v1h-3zM418 656h1v1h-1zM507 656h1v1h-1zM551 656h1v1h-1zM601 656h1v1h-1zM656 656h1v1h-1zM662 656h4v1h-4zM752 656h1v1h-1zM857 656h1v1h-1zM860 656h3v1h-3zM870 656h13v1h-13zM890 656h1v1h-1zM997 656h1v1h-1zM1025 656h9v1h-9zM55 626h2v1h-2zM151 626h1v1h-1zM352 626h1v1h-1zM354 626h1v1h-1zM1136 626h1v1h-1zM1149 626h1v1h-1zM1167 626h1v1h-1zM1172 626h3v1h-3zM1247 626h1v1h-1zM1262 626h4v1h-4zM10 643h1v1h-1zM173 643h1v1h-1zM217 643h2v1h-2zM232 643h6v1h-6zM246 643h8v1h-8zM304 643h2v1h-2zM326 643h1v1h-1zM335 643h1v1h-1zM404 643h1v1h-1zM470 643h1v1h-1zM499 643h1v1h-1zM587 643h2v1h-2zM594 643h1v1h-1zM639 643h1v1h-1zM642 643h1v1h-1zM717 643h3v1h-3zM745 643h1v1h-1zM895 643h1v1h-1zM966 643h4v1h-4zM982 643h1v1h-1zM1091 643h1v1h-1zM40 630h10v1h-10zM154 630h2v1h-2zM350 630h1v1h-1zM356 630h1v1h-1zM1130 630h1v1h-1zM1153 630h5v1h-5zM1180 630h1v1h-1zM1231 630h1v1h-1zM1235 630h1v1h-1zM1243 630h1v1h-1zM1271 630h2v1h-2zM1276 630h3v1h-3zM1301 630h3v1h-3zM12 640h1v1h-1zM171 640h1v1h-1zM224 640h3v1h-3zM259 640h1v1h-1zM296 640h3v1h-3zM307 640h1v1h-1zM324 640h1v1h-1zM343 640h3v1h-3zM361 640h3v1h-3zM402 640h1v1h-1zM472 640h1v1h-1zM476 640h3v1h-3zM493 640h3v1h-3zM498 640h1v1h-1zM724 640h2v1h-2zM739 640h2v1h-2zM897 640h1v1h-1zM926 640h13v1h-13zM959 640h1v1h-1zM974 640h1v1h-1zM979 640h1v1h-1zM1093 640h1v1h-1zM415 657h3v1h-3zM508 657h1v1h-1zM526 657h4v1h-4zM550 657h1v1h-1zM657 657h5v1h-5zM752 657h1v1h-1zM856 657h1v1h-1zM863 657h7v1h-7zM883 657h2v1h-2zM890 657h1v1h-1zM998 657h2v1h-2zM1024 657h1v1h-1zM52 628h2v1h-2zM152 628h1v1h-1zM351 628h1v1h-1zM355 628h1v1h-1zM1133 628h1v1h-1zM1151 628h1v1h-1zM1163 628h1v1h-1zM1178 628h1v1h-1zM1245 628h1v1h-1zM1268 628h2v1h-2zM1294 628h5v1h-5zM177 651h5v1h-5zM407 651h1v1h-1zM421 651h1v1h-1zM438 651h1v1h-1zM454 651h2v1h-2zM503 651h1v1h-1zM556 651h1v1h-1zM598 651h1v1h-1zM607 651h1v1h-1zM623 651h3v1h-3zM650 651h1v1h-1zM673 651h2v1h-2zM749 651h1v1h-1zM892 651h1v1h-1zM991 651h1v1h-1zM1037 651h1v1h-1zM1062 651h1v1h-1zM1069 651h1v1h-1zM511 661h1v1h-1zM516 661h2v1h-2zM534 661h2v1h-2zM547 661h1v1h-1zM755 661h1v1h-1zM769 661h5v1h-5zM854 661h1v1h-1zM1005 661h3v1h-3zM1018 661h1v1h-1zM50 629h2v1h-2zM153 629h1v1h-1zM351 629h1v1h-1zM355 629h1v1h-1zM1131 629h2v1h-2zM1152 629h1v1h-1zM1158 629h5v1h-5zM1179 629h1v1h-1zM1232 629h3v1h-3zM1244 629h1v1h-1zM1270 629h1v1h-1zM1279 629h15v1h-15zM1299 629h2v1h-2zM806 679h16v1h-16zM57 625h1v1h-1zM113 625h2v1h-2zM150 625h1v1h-1zM353 625h1v1h-1zM1137 625h2v1h-2zM1149 625h1v1h-1zM1168 625h4v1h-4zM1247 625h1v1h-1zM1255 625h7v1h-7zM39 631h1v1h-1zM156 631h2v1h-2zM350 631h1v1h-1zM356 631h1v1h-1zM1126 631h4v1h-4zM1181 631h2v1h-2zM1228 631h3v1h-3zM1236 631h3v1h-3zM1243 631h1v1h-1zM1273 631h3v1h-3zM1304 631h10v1h-10zM35 633h1v1h-1zM159 633h2v1h-2zM313 633h2v1h-2zM349 633h1v1h-1zM357 633h1v1h-1zM905 633h9v1h-9zM951 633h2v1h-2zM954 633h1v1h-1zM1097 633h2v1h-2zM1112 633h6v1h-6zM1184 633h1v1h-1zM1199 633h5v1h-5zM1213 633h3v1h-3zM1222 633h5v1h-5zM1240 633h2v1h-2zM36 632h3v1h-3zM158 632h1v1h-1zM349 632h1v1h-1zM357 632h1v1h-1zM953 632h1v1h-1zM1118 632h8v1h-8zM1183 632h1v1h-1zM1216 632h6v1h-6zM1227 632h1v1h-1zM1239 632h1v1h-1zM1242 632h1v1h-1zM174 645h1v1h-1zM197 645h3v1h-3zM202 645h2v1h-2zM214 645h2v1h-2zM328 645h1v1h-1zM331 645h1v1h-1zM405 645h1v1h-1zM425 645h5v1h-5zM469 645h1v1h-1zM500 645h1v1h-1zM583 645h1v1h-1zM595 645h1v1h-1zM635 645h1v1h-1zM644 645h1v1h-1zM704 645h1v1h-1zM710 645h5v1h-5zM746 645h1v1h-1zM895 645h1v1h-1zM984 645h1v1h-1zM1041 645h3v1h-3zM1055 645h3v1h-3zM1090 645h1v1h-1zM799 676h1v1h-1zM829 676h3v1h-3zM835 676h2v1h-2zM843 676h2v1h-2zM801 678h5v1h-5zM822 678h5v1h-5zM840 678h2v1h-2zM513 663h1v1h-1zM537 663h9v1h-9zM757 663h2v1h-2zM766 663h1v1h-1zM778 663h1v1h-1zM853 663h1v1h-1zM408 652h1v1h-1zM420 652h1v1h-1zM439 652h1v1h-1zM453 652h1v1h-1zM504 652h1v1h-1zM555 652h1v1h-1zM599 652h1v1h-1zM605 652h2v1h-2zM651 652h1v1h-1zM671 652h2v1h-2zM750 652h1v1h-1zM892 652h1v1h-1zM992 652h1v1h-1zM1036 652h1v1h-1zM1063 652h1v1h-1zM1068 652h1v1h-1zM510 660h1v1h-1zM518 660h1v1h-1zM533 660h1v1h-1zM548 660h1v1h-1zM754 660h1v1h-1zM855 660h1v1h-1zM1003 660h2v1h-2zM1019 660h2v1h-2zM9 644h1v1h-1zM173 644h1v1h-1zM200 644h2v1h-2zM216 644h1v1h-1zM238 644h8v1h-8zM327 644h1v1h-1zM332 644h3v1h-3zM404 644h1v1h-1zM469 644h1v1h-1zM500 644h1v1h-1zM584 644h3v1h-3zM595 644h1v1h-1zM636 644h3v1h-3zM643 644h1v1h-1zM705 644h5v1h-5zM715 644h2v1h-2zM746 644h1v1h-1zM895 644h1v1h-1zM983 644h1v1h-1zM1091 644h1v1h-1zM71 614h1v1h-1zM77 614h3v1h-3zM408 653h1v1h-1zM420 653h1v1h-1zM440 653h1v1h-1zM451 653h2v1h-2zM504 653h1v1h-1zM554 653h1v1h-1zM599 653h1v1h-1zM604 653h1v1h-1zM652 653h1v1h-1zM670 653h1v1h-1zM750 653h1v1h-1zM891 653h1v1h-1zM993 653h1v1h-1zM1035 653h1v1h-1zM1063 653h1v1h-1zM1067 653h1v1h-1zM509 658h1v1h-1zM521 658h5v1h-5zM530 658h1v1h-1zM549 658h1v1h-1zM753 658h1v1h-1zM856 658h1v1h-1zM885 658h3v1h-3zM889 658h1v1h-1zM1000 658h1v1h-1zM1022 658h2v1h-2zM509 659h1v1h-1zM519 659h2v1h-2zM531 659h2v1h-2zM549 659h1v1h-1zM753 659h1v1h-1zM855 659h1v1h-1zM888 659h2v1h-2zM1001 659h2v1h-2zM1021 659h1v1h-1zM60 623h2v1h-2zM110 623h2v1h-2zM117 623h3v1h-3zM148 623h1v1h-1zM1140 623h3v1h-3zM1147 623h1v1h-1zM1249 623h3v1h-3zM409 654h1v1h-1zM419 654h1v1h-1zM441 654h5v1h-5zM450 654h1v1h-1zM505 654h1v1h-1zM553 654h1v1h-1zM600 654h1v1h-1zM603 654h1v1h-1zM653 654h2v1h-2zM668 654h2v1h-2zM751 654h1v1h-1zM891 654h1v1h-1zM994 654h1v1h-1zM1034 654h1v1h-1zM1064 654h1v1h-1zM1066 654h1v1h-1zM65 620h1v1h-1zM87 620h1v1h-1zM101 620h3v1h-3zM106 620h1v1h-1zM135 620h7v1h-7zM146 620h1v1h-1zM759 664h1v1h-1zM764 664h2v1h-2zM779 664h2v1h-2zM853 664h1v1h-1zM72 613h1v1h-1zM75 613h2v1h-2zM800 677h1v1h-1zM827 677h2v1h-2zM837 677h3v1h-3zM842 677h1v1h-1zM15 636h1v1h-1zM169 636h1v1h-1zM264 636h1v1h-1zM276 636h3v1h-3zM311 636h1v1h-1zM319 636h1v1h-1zM347 636h1v1h-1zM359 636h1v1h-1zM380 636h3v1h-3zM397 636h3v1h-3zM901 636h1v1h-1zM917 636h1v1h-1zM946 636h2v1h-2zM956 636h1v1h-1zM1095 636h1v1h-1zM1103 636h1v1h-1zM1107 636h1v1h-1zM761 666h1v1h-1zM782 666h2v1h-2zM852 666h1v1h-1zM68 617h1v1h-1zM83 617h1v1h-1zM795 671h1v1h-1zM849 671h1v1h-1zM785 668h5v1h-5zM851 668h1v1h-1zM798 675h1v1h-1zM832 675h3v1h-3zM845 675h1v1h-1zM797 673h1v1h-1zM848 673h1v1h-1zM796 672h1v1h-1zM849 672h1v1h-1zM69 616h1v1h-1zM82 616h1v1h-1zM797 674h1v1h-1zM846 674h2v1h-2zM70 615h1v1h-1zM80 615h2v1h-2zM73 612h2v1h-2zM794 670h1v1h-1zM850 670h1v1h-1zM784 667h1v1h-1zM851 667h1v1h-1zM67 618h1v1h-1zM84 618h1v1h-1z" fill="#1e90ff"/>
<path d="M12 51h9l-4.5 -5z" fill="#000"/>
<text x="27.4" y="52.5" font-size="12.4" fill="#000" textLength="56.5" lengthAdjust="spacingAndGlyphs">SP500-,H4</text>
<text x="93.2" y="52.5" font-size="12.4" fill="#000" textLength="51.3" lengthAdjust="spacingAndGlyphs">2990.250</text>
<text x="150.6" y="52.5" font-size="12.4" fill="#000" textLength="51.3" lengthAdjust="spacingAndGlyphs">2992.250</text>
<text x="207.6" y="52.5" font-size="12.4" fill="#000" textLength="51.3" lengthAdjust="spacingAndGlyphs">2989.250</text>
<text x="264.5" y="52.5" font-size="12.4" fill="#000" textLength="51.3" lengthAdjust="spacingAndGlyphs">2990.000</text>
<text x="13.5" y="536" font-size="12.4" fill="#000" textLength="83.4" lengthAdjust="spacingAndGlyphs">MACD(12,26,9)</text>
<text x="102.6" y="536" font-size="12.4" fill="#000" textLength="43.7" lengthAdjust="spacingAndGlyphs">12.0417</text>
<text x="152" y="536" font-size="12.4" fill="#000" textLength="45.6" lengthAdjust="spacingAndGlyphs">13.3199</text>
<text x="13.5" y="596.5" font-size="12.4" fill="#000" textLength="40.9" lengthAdjust="spacingAndGlyphs">RSI(14)</text>
<text x="59.8" y="596.5" font-size="12.4" fill="#000" textLength="44" lengthAdjust="spacingAndGlyphs">60.9634</text>
<rect x="1659" y="107" width="2" height="1" fill="#000"/>
<text x="1665" y="112" font-size="12.4" fill="#000" textLength="52" lengthAdjust="spacingAndGlyphs">3006.885</text>
<rect x="1659" y="156" width="2" height="1" fill="#000"/>
<text x="1665" y="161" font-size="12.4" fill="#000" textLength="52" lengthAdjust="spacingAndGlyphs">2988.135</text>
<rect x="1659" y="205" width="2" height="1" fill="#000"/>
<text x="1665" y="210" font-size="12.4" fill="#000" textLength="52" lengthAdjust="spacingAndGlyphs">2969.385</text>
<rect x="1659" y="254" width="2" height="1" fill="#000"/>
<text x="1665" y="259" font-size="12.4" fill="#000" textLength="52" lengthAdjust="spacingAndGlyphs">2950.635</text>
<rect x="1659" y="303" width="2" height="1" fill="#000"/>
<text x="1665" y="308" font-size="12.4" fill="#000" textLength="52" lengthAdjust="spacingAndGlyphs">2932.260</text>
<rect x="1659" y="352" width="2" height="1" fill="#000"/>
<text x="1665" y="357" font-size="12.4" fill="#000" textLength="52" lengthAdjust="spacingAndGlyphs">2913.510</text>
<rect x="1659" y="401" width="2" height="1" fill="#000"/>
<text x="1665" y="406" font-size="12.4" fill="#000" textLength="52" lengthAdjust="spacingAndGlyphs">2894.760</text>
<rect x="1659" y="450" width="2" height="1" fill="#000"/>
<text x="1665" y="455" font-size="12.4" fill="#000" textLength="52" lengthAdjust="spacingAndGlyphs">2876.385</text>
<rect x="1659" y="499" width="2" height="1" fill="#000"/>
<text x="1665" y="504" font-size="12.4" fill="#000" textLength="52" lengthAdjust="spacingAndGlyphs">2857.635</text>
<rect x="1660" y="144" width="63" height="1" fill="#000"/>
<rect x="1660" y="53" width="63" height="14" fill="#ff0000"/>
<text x="1665" y="65" font-size="12.4" fill="#fff" textLength="52" lengthAdjust="spacingAndGlyphs">3025.000</text>
<rect x="1659" y="58" width="1" height="1" fill="#000"/>
<rect x="1660" y="145" width="63" height="14" fill="#00ff7f"/>
<text x="1665" y="157" font-size="12.4" fill="#fff" textLength="52" lengthAdjust="spacingAndGlyphs">2990.000</text>
<rect x="1660" y="224" width="63" height="14" fill="#0000ff"/>
<text x="1665" y="236" font-size="12.4" fill="#fff" textLength="52" lengthAdjust="spacingAndGlyphs">2960.000</text>
<rect x="1660" y="355" width="63" height="14" fill="#0000ff"/>
<text x="1665" y="367" font-size="12.4" fill="#fff" textLength="52" lengthAdjust="spacingAndGlyphs">2910.000</text>
<rect x="1659" y="522" width="1" height="1" fill="#000"/>
<rect x="1659" y="543" width="1" height="1" fill="#000"/>
<rect x="1659" y="578" width="1" height="1" fill="#000"/>
<text x="1662.5" y="534" font-size="12.4" fill="#000">16.6435</text>
<text x="1662.5" y="547.5" font-size="12.4" fill="#000">0.00</text>
<text x="1662.5" y="575.5" font-size="12.4" fill="#000">-27.6452</text>
<rect x="1659" y="582" width="1" height="1" fill="#000"/>
<rect x="1659" y="706" width="1" height="1" fill="#000"/>
<text x="1662.5" y="595" font-size="12.4" fill="#000">100</text>
<text x="1661" y="624" font-size="12.4" fill="#000">70</text>
<text x="1661" y="674" font-size="12.4" fill="#000">30</text>
<text x="1662.5" y="703" font-size="12.4" fill="#000">0</text>
<rect x="9" y="707" width="1" height="3" fill="#000"/>
<text x="8.5" y="722" font-size="12.4" fill="#000" textLength="70.4" lengthAdjust="spacingAndGlyphs">10 Sep 2019</text>
<rect x="105" y="707" width="1" height="3" fill="#000"/>
<text x="104.5" y="722" font-size="12.4" fill="#000" textLength="73.9" lengthAdjust="spacingAndGlyphs">12 Sep 12:00</text>
<rect x="201" y="707" width="1" height="3" fill="#000"/>
<text x="200.5" y="722" font-size="12.4" fill="#000" textLength="73.9" lengthAdjust="spacingAndGlyphs">16 Sep 08:00</text>
<rect x="297" y="707" width="1" height="3" fill="#000"/>
<text x="296.5" y="722" font-size="12.4" fill="#000" textLength="73.9" lengthAdjust="spacingAndGlyphs">18 Sep 08:00</text>
<rect x="393" y="707" width="1" height="3" fill="#000"/>
<text x="392.5" y="722" font-size="12.4" fill="#000" textLength="73.9" lengthAdjust="spacingAndGlyphs">20 Sep 08:00</text>
<rect x="489" y="707" width="1" height="3" fill="#000"/>
<text x="488.5" y="722" font-size="12.4" fill="#000" textLength="73.9" lengthAdjust="spacingAndGlyphs">24 Sep 04:00</text>
<rect x="585" y="707" width="1" height="3" fill="#000"/>
<text x="584.5" y="722" font-size="12.4" fill="#000" textLength="73.9" lengthAdjust="spacingAndGlyphs">26 Sep 04:00</text>
<rect x="681" y="707" width="1" height="3" fill="#000"/>
<text x="680.5" y="722" font-size="12.4" fill="#000" textLength="73.9" lengthAdjust="spacingAndGlyphs">30 Sep 00:00</text>
<rect x="777" y="707" width="1" height="3" fill="#000"/>
<text x="776.5" y="722" font-size="12.4" fill="#000" textLength="66" lengthAdjust="spacingAndGlyphs">2 Oct 00:00</text>
<rect x="873" y="707" width="1" height="3" fill="#000"/>
<text x="872.5" y="722" font-size="12.4" fill="#000" textLength="66" lengthAdjust="spacingAndGlyphs">4 Oct 00:00</text>
<rect x="969" y="707" width="1" height="3" fill="#000"/>
<text x="968.5" y="722" font-size="12.4" fill="#000" textLength="66" lengthAdjust="spacingAndGlyphs">7 Oct 20:00</text>
<rect x="1065" y="707" width="1" height="3" fill="#000"/>
<text x="1064.5" y="722" font-size="12.4" fill="#000" textLength="66" lengthAdjust="spacingAndGlyphs">9 Oct 20:00</text>
<rect x="1161" y="707" width="1" height="3" fill="#000"/>
<text x="1160.5" y="722" font-size="12.4" fill="#000" textLength="72.4" lengthAdjust="spacingAndGlyphs">11 Oct 20:00</text>
<rect x="1257" y="707" width="1" height="3" fill="#000"/>
<text x="1256.5" y="722" font-size="12.4" fill="#000" textLength="72.4" lengthAdjust="spacingAndGlyphs">15 Oct 16:00</text>
<rect x="10" y="59" width="287" height="80" fill="#fff"/>
<defs>
<linearGradient id="gt" x1="0" y1="0" x2="0" y2="1"><stop offset="0" stop-color="#f85252"/><stop offset="1" stop-color="#e23a3a"/></linearGradient>
<linearGradient id="gp" x1="0" y1="0" x2="0" y2="1"><stop offset="0" stop-color="#e03434"/><stop offset="0.5" stop-color="#c81c1c"/><stop offset="1" stop-color="#ae0202"/></linearGradient>
<linearGradient id="gb" x1="0" y1="0" x2="0" y2="1"><stop offset="0" stop-color="#f2f2f2"/><stop offset="0.28" stop-color="#ebebeb"/><stop offset="0.3" stop-color="#dddddd"/><stop offset="1" stop-color="#d2d2d2"/></linearGradient>
<pattern id="chk" x="0" y="0" width="2" height="2" patternUnits="userSpaceOnUse"><rect width="2" height="2" fill="#fff"/><rect width="1" height="1" fill="#f0f0f0"/><rect x="1" y="1" width="1" height="1" fill="#f0f0f0"/></pattern>
<clipPath id="cm"><rect x="9" y="39" width="1649" height="479"/></clipPath>
</defs>
<rect x="12" y="61" width="68" height="28" fill="url(#gt)"/>
<rect x="227" y="61" width="68" height="28" fill="url(#gt)"/>
<rect x="12" y="88" width="141" height="49" fill="url(#gp)"/>
<rect x="155" y="88" width="140" height="49" fill="url(#gp)"/>
<rect x="12" y="61" width="68" height="1" fill="#b00808"/>
<rect x="12" y="61" width="1" height="76" fill="#b00808"/>
<rect x="227" y="61" width="68" height="1" fill="#b00808"/>
<rect x="294" y="61" width="1" height="76" fill="#b00808"/>
<rect x="16" y="87" width="60" height="1" fill="#a01010"/>
<rect x="16" y="88" width="60" height="1" fill="#e86060"/>
<rect x="231" y="87" width="60" height="1" fill="#a01010"/>
<rect x="231" y="88" width="60" height="1" fill="#e86060"/>
<rect x="82" y="61" width="143" height="25" fill="#aaaeb8"/>
<rect x="83" y="62" width="141" height="23" fill="#fff"/>
<rect x="84" y="63" width="21" height="21" fill="url(#gb)"/>
<rect x="106" y="62" width="1" height="23" fill="#aaaeb8"/>
<rect x="202" y="63" width="21" height="21" fill="url(#gb)"/>
<rect x="200" y="62" width="1" height="23" fill="#aaaeb8"/>
<path d="M90.5 72h7l-3.5 4z" fill="#4a5ec0" shape-rendering="auto"/>
<path d="M209 75h7l-3.5 -4z" fill="#4a5ec0" shape-rendering="auto"/>
<text x="196.5" y="79" font-size="15" fill="#000" text-anchor="end">1.00</text>
<text x="29.5" y="79.2" font-size="14.5" fill="#fff" textLength="32" lengthAdjust="spacingAndGlyphs">SELL</text>
<text x="246.6" y="79.2" font-size="14.5" fill="#fff" textLength="28.5" lengthAdjust="spacingAndGlyphs">BUY</text>
<text x="33.3" y="125.6" font-size="14.5" fill="#fff" font-weight="bold" textLength="35" lengthAdjust="spacingAndGlyphs">2989</text>
<text x="74" y="126" font-size="40" fill="#fff" textLength="41.5" lengthAdjust="spacingAndGlyphs">98</text>
<text x="122.5" y="107.8" font-size="14" fill="#fff" font-weight="bold">5</text>
<text x="175.2" y="125.6" font-size="14.5" fill="#fff" font-weight="bold" textLength="35" lengthAdjust="spacingAndGlyphs">2990</text>
<text x="217.3" y="126" font-size="40" fill="#fff" textLength="41.5" lengthAdjust="spacingAndGlyphs">76</text>
<text x="265.7" y="107.8" font-size="14" fill="#fff" font-weight="bold">5</text>
<text x="200.3" y="23" font-size="12" fill="#484848">M1</text>
<text x="234.3" y="23" font-size="12" fill="#484848">M5</text>
<text x="265.90000000000003" y="23" font-size="12" fill="#484848" textLength="22.1" lengthAdjust="spacingAndGlyphs">M15</text>
<text x="299.7" y="23" font-size="12" fill="#484848" textLength="22.5" lengthAdjust="spacingAndGlyphs">M30</text>
<text x="337.8" y="23" font-size="12" fill="#484848">H1</text>
<rect x="364" y="4" width="30" height="28" fill="url(#chk)"/>
<rect x="363" y="3" width="31" height="1" fill="#808080"/>
<rect x="363" y="3" width="1" height="29" fill="#808080"/>
<rect x="363" y="32" width="32" height="1" fill="#fff"/>
<rect x="394" y="3" width="1" height="30" fill="#fff"/>
<text x="370.3" y="23" font-size="12" fill="#484848">H4</text>
<text x="405.8" y="23" font-size="12" fill="#484848">D1</text>
<text x="438.8" y="23" font-size="12" fill="#484848">W1</text>
<text x="470.8" y="23" font-size="12" fill="#484848">MN</text>
<rect x="183" y="2" width="1" height="32" fill="#a0a0a0"/>
<rect x="184" y="2" width="1" height="32" fill="#fff"/>
<rect x="498" y="2" width="1" height="32" fill="#a0a0a0"/>
<rect x="499" y="2" width="1" height="32" fill="#fff"/>
<rect x="187" y="5" width="3" height="1" fill="#a0a0a0"/>
<rect x="187" y="7" width="3" height="1" fill="#a0a0a0"/>
<rect x="187" y="9" width="3" height="1" fill="#a0a0a0"/>
<rect x="187" y="11" width="3" height="1" fill="#a0a0a0"/>
<rect x="187" y="13" width="3" height="1" fill="#a0a0a0"/>
<rect x="187" y="15" width="3" height="1" fill="#a0a0a0"/>
<rect x="187" y="17" width="3" height="1" fill="#a0a0a0"/>
<rect x="187" y="19" width="3" height="1" fill="#a0a0a0"/>
<rect x="187" y="21" width="3" height="1" fill="#a0a0a0"/>
<rect x="187" y="23" width="3" height="1" fill="#a0a0a0"/>
<rect x="187" y="25" width="3" height="1" fill="#a0a0a0"/>
<rect x="187" y="27" width="3" height="1" fill="#a0a0a0"/>
<rect x="187" y="29" width="3" height="1" fill="#a0a0a0"/>
<rect x="187" y="31" width="3" height="1" fill="#a0a0a0"/>
<g stroke="#505050" fill="none" shape-rendering="auto" stroke-linejoin="round"><path d="M6.800 20.300L17.300 10.500M13.600 26.800L25.400 16.100" stroke-width="1.1" stroke="#666"/><path d="M8.300 26L11.500 16.800M13.200 23.200L16 14M15 16.300L18 13.500M19 21.500L21.300 13.500 22.200 8.300M23.500 11L23.900 16.500" stroke-width="1.5"/></g>
<text x="21" y="29.6" font-size="9" fill="#505050" font-weight="bold">E</text>
<g fill="#505050" opacity="0.85" shape-rendering="auto">
<rect x="42.50" y="9.1" width="1.3" height="1.8"/>
<rect x="45.08" y="9.1" width="1.3" height="1.8"/>
<rect x="47.66" y="9.1" width="1.3" height="1.8"/>
<rect x="50.24" y="9.1" width="1.3" height="1.8"/>
<rect x="52.82" y="9.1" width="1.3" height="1.8"/>
<rect x="55.40" y="9.1" width="1.3" height="1.8"/>
<rect x="57.98" y="9.1" width="1.3" height="1.8"/>
<rect x="42.50" y="13.0" width="1.3" height="1.8"/>
<rect x="45.08" y="13.0" width="1.3" height="1.8"/>
<rect x="47.66" y="13.0" width="1.3" height="1.8"/>
<rect x="50.24" y="13.0" width="1.3" height="1.8"/>
<rect x="52.82" y="13.0" width="1.3" height="1.8"/>
<rect x="55.40" y="13.0" width="1.3" height="1.8"/>
<rect x="57.98" y="13.0" width="1.3" height="1.8"/>
<rect x="42.50" y="17.9" width="1.3" height="1.8"/>
<rect x="45.08" y="17.9" width="1.3" height="1.8"/>
<rect x="47.66" y="17.9" width="1.3" height="1.8"/>
<rect x="50.24" y="17.9" width="1.3" height="1.8"/>
<rect x="52.82" y="17.9" width="1.3" height="1.8"/>
<rect x="55.40" y="17.9" width="1.3" height="1.8"/>
<rect x="57.98" y="17.9" width="1.3" height="1.8"/>
<rect x="42.50" y="23.1" width="1.3" height="1.8"/>
<rect x="45.08" y="23.1" width="1.3" height="1.8"/>
<rect x="47.66" y="23.1" width="1.3" height="1.8"/>
<rect x="50.24" y="23.1" width="1.3" height="1.8"/>
<rect x="52.82" y="23.1" width="1.3" height="1.8"/>
</g>
<text x="55" y="29.6" font-size="9" fill="#505050" font-weight="bold">F</text>
<text x="80" y="24.8" font-size="16.5" fill="#5a5a5a" font-weight="bold" textLength="10.2" lengthAdjust="spacingAndGlyphs">A</text>
<rect x="112.5" y="11.5" width="14" height="15" fill="none" stroke="#505050" stroke-dasharray="1 1.5"/>
<rect x="111" y="10" width="3" height="2" fill="#505050"/>
<text x="114.3" y="24.3" font-size="13.5" fill="#6a6a6a" font-weight="bold" textLength="10.4" lengthAdjust="spacingAndGlyphs">T</text>
<g fill="#5a5a5a" shape-rendering="auto"><path d="M144.500 14.500l4.500-4.500 4.500 4.500h-2.500v2h-4v-2z"/><path d="M153 23l4.500 4.500 4.500-4.500h-2.500v-1.500h-4v1.500z"/><path d="M147 19.500l1-1 2.500 2.500 5-5 1 1-6 6z"/></g>
<path d="M168 17h8l-4 4.500z" fill="#000" shape-rendering="auto"/>
</svg>
</body></html>
